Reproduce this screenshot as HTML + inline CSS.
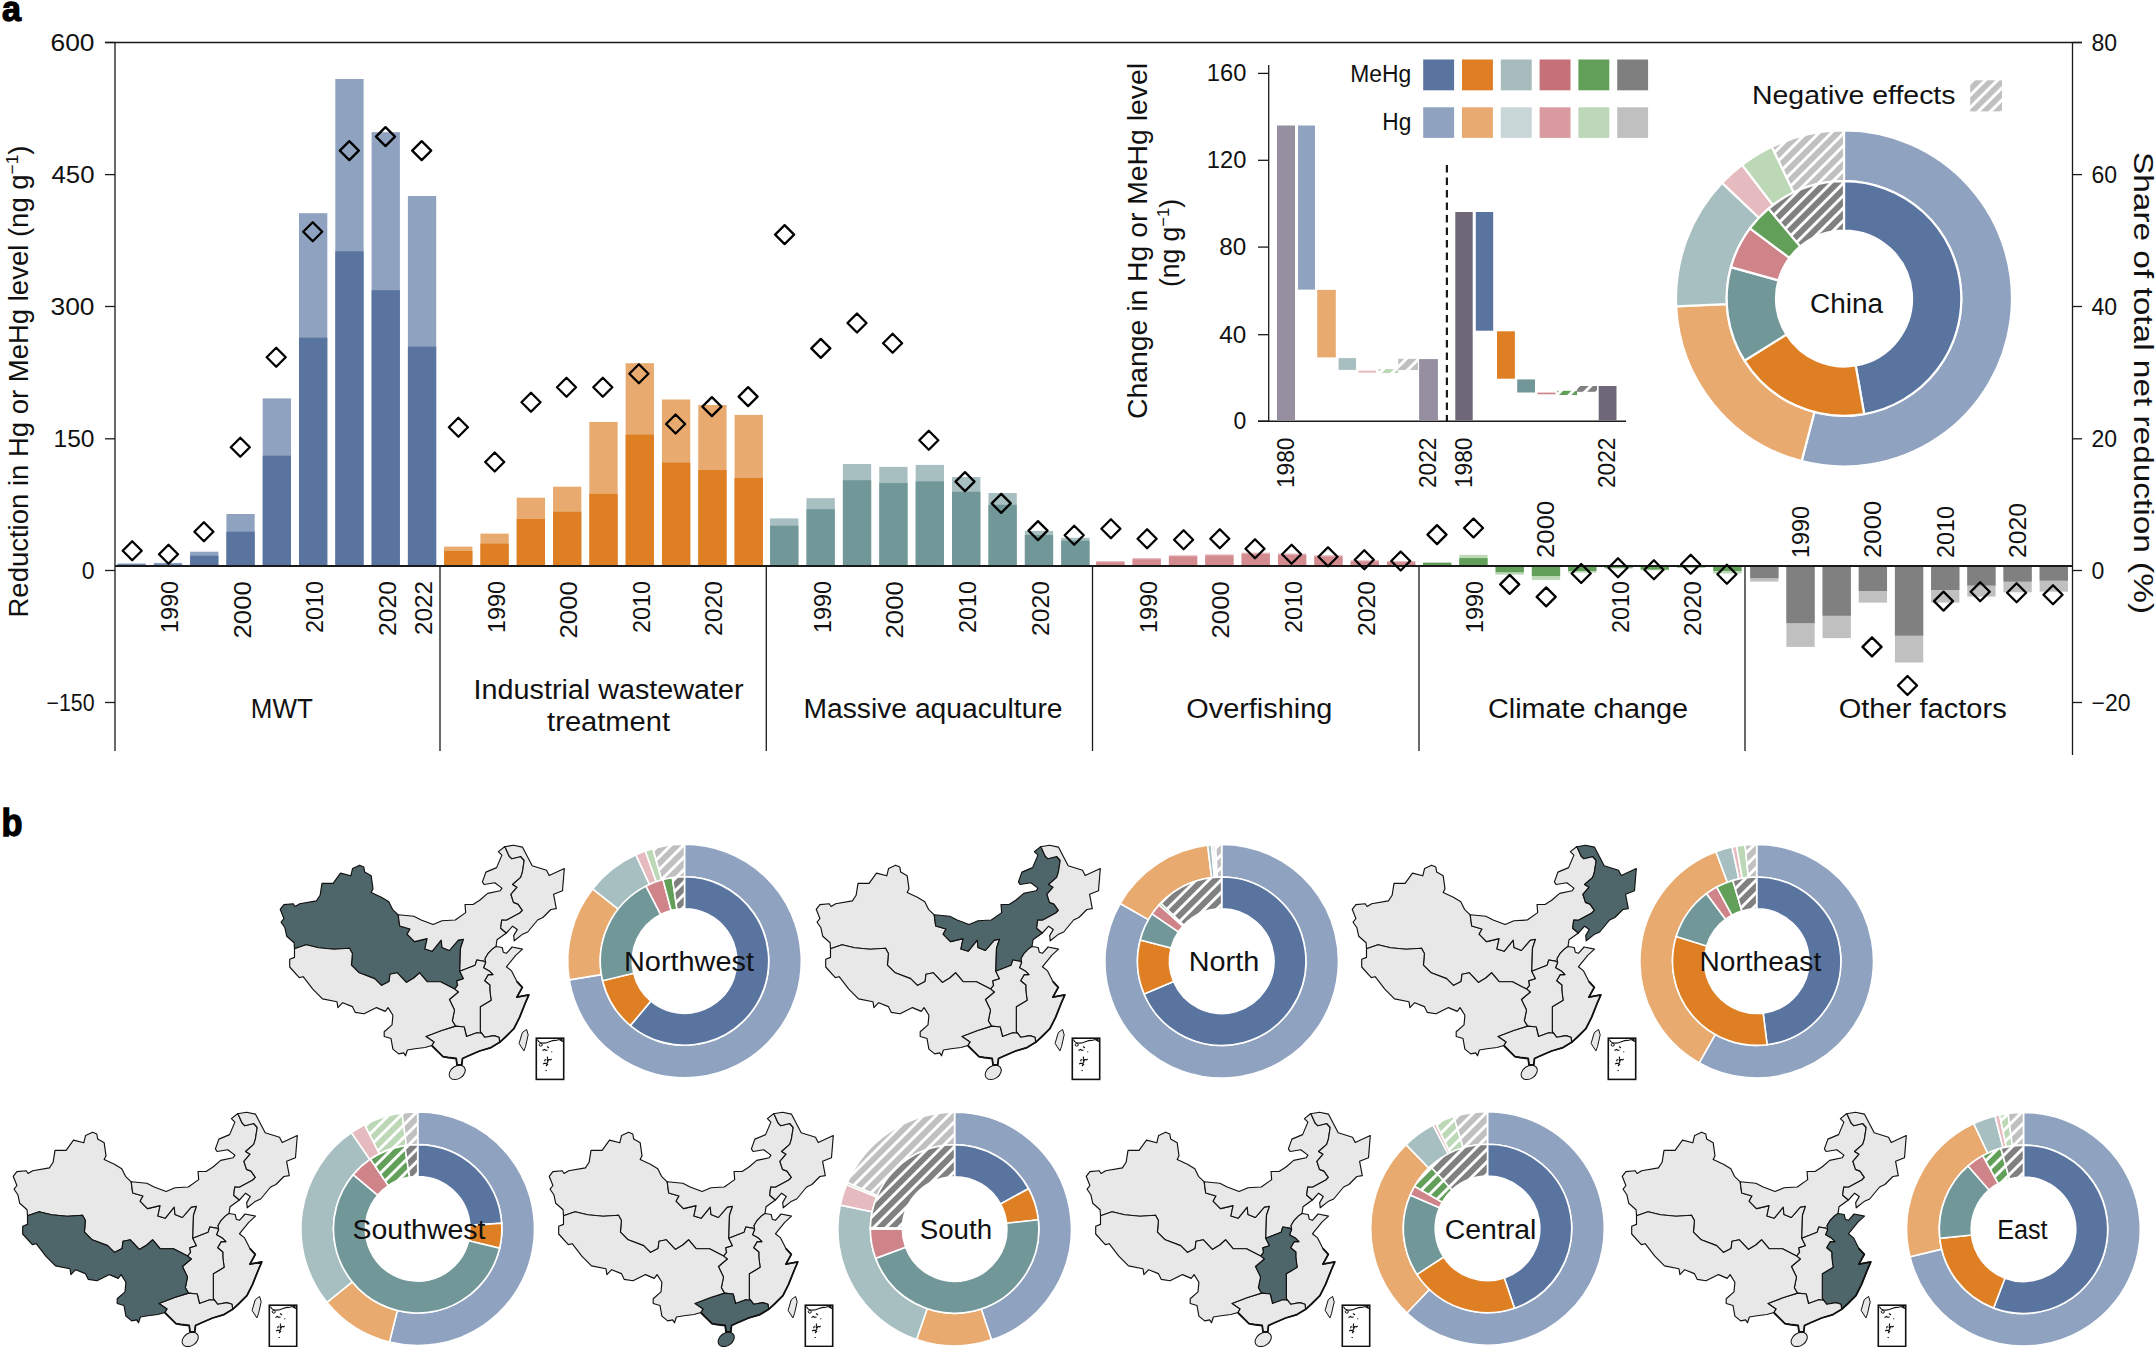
<!DOCTYPE html>
<html><head><meta charset="utf-8"><style>
html,body{margin:0;padding:0;background:#fff;width:2155px;height:1347px;overflow:hidden;}
svg{display:block;font-family:"Liberation Sans", sans-serif;}
</style></head><body>
<svg width="2155" height="1347" viewBox="0 0 2155 1347">
<rect width="2155" height="1347" fill="#fff"/>
<text x="2" y="21" font-size="35.5" font-weight="bold" fill="#000" stroke="#000" stroke-width="1.3" textLength="19" lengthAdjust="spacingAndGlyphs">a</text>
<text x="1.6" y="835.6" font-size="38" font-weight="bold" fill="#000" stroke="#000" stroke-width="1.3" textLength="21" lengthAdjust="spacingAndGlyphs">b</text>
<line x1="105" y1="42.5" x2="2082" y2="42.5" stroke="#1a1a1a" stroke-width="1.3"/>
<line x1="115" y1="42" x2="115" y2="751" stroke="#1a1a1a" stroke-width="1.3"/>
<line x1="2072.5" y1="42" x2="2072.5" y2="755" stroke="#1a1a1a" stroke-width="1.3"/>
<line x1="105" y1="42.5" x2="115" y2="42.5" stroke="#1a1a1a" stroke-width="1.3"/>
<line x1="2072.5" y1="42.5" x2="2082" y2="42.5" stroke="#1a1a1a" stroke-width="1.3"/>
<line x1="105" y1="174.6" x2="115" y2="174.6" stroke="#1a1a1a" stroke-width="1.3"/>
<line x1="2072.5" y1="174.6" x2="2082" y2="174.6" stroke="#1a1a1a" stroke-width="1.3"/>
<line x1="105" y1="306.5" x2="115" y2="306.5" stroke="#1a1a1a" stroke-width="1.3"/>
<line x1="2072.5" y1="306.5" x2="2082" y2="306.5" stroke="#1a1a1a" stroke-width="1.3"/>
<line x1="105" y1="438.8" x2="115" y2="438.8" stroke="#1a1a1a" stroke-width="1.3"/>
<line x1="2072.5" y1="438.8" x2="2082" y2="438.8" stroke="#1a1a1a" stroke-width="1.3"/>
<line x1="105" y1="570.5" x2="115" y2="570.5" stroke="#1a1a1a" stroke-width="1.3"/>
<line x1="2072.5" y1="570.5" x2="2082" y2="570.5" stroke="#1a1a1a" stroke-width="1.3"/>
<line x1="105" y1="702.5" x2="115" y2="702.5" stroke="#1a1a1a" stroke-width="1.3"/>
<line x1="2072.5" y1="702.5" x2="2082" y2="702.5" stroke="#1a1a1a" stroke-width="1.3"/>
<line x1="440" y1="567" x2="440" y2="751" stroke="#1a1a1a" stroke-width="1.3"/>
<line x1="766.3" y1="567" x2="766.3" y2="751" stroke="#1a1a1a" stroke-width="1.3"/>
<line x1="1092.5" y1="567" x2="1092.5" y2="751" stroke="#1a1a1a" stroke-width="1.3"/>
<line x1="1419" y1="567" x2="1419" y2="751" stroke="#1a1a1a" stroke-width="1.3"/>
<line x1="1745" y1="567" x2="1745" y2="751" stroke="#1a1a1a" stroke-width="1.3"/>
<text x="94.5" y="50.5" font-size="23" text-anchor="end" font-weight="normal" fill="#111" textLength="44" lengthAdjust="spacingAndGlyphs">600</text>
<text x="94.5" y="182.6" font-size="23" text-anchor="end" font-weight="normal" fill="#111" textLength="43" lengthAdjust="spacingAndGlyphs">450</text>
<text x="94.5" y="314.5" font-size="23" text-anchor="end" font-weight="normal" fill="#111" textLength="44" lengthAdjust="spacingAndGlyphs">300</text>
<text x="94.5" y="446.8" font-size="23" text-anchor="end" font-weight="normal" fill="#111" textLength="41" lengthAdjust="spacingAndGlyphs">150</text>
<text x="94.5" y="578.5" font-size="23" text-anchor="end" font-weight="normal" fill="#111">0</text>
<text x="94.5" y="710.5" font-size="23" text-anchor="end" font-weight="normal" fill="#111" textLength="48" lengthAdjust="spacingAndGlyphs">−150</text>
<text x="2091.5" y="50.5" font-size="23" text-anchor="start" font-weight="normal" fill="#111">80</text>
<text x="2091.5" y="182.6" font-size="23" text-anchor="start" font-weight="normal" fill="#111">60</text>
<text x="2091.5" y="314.5" font-size="23" text-anchor="start" font-weight="normal" fill="#111">40</text>
<text x="2091.5" y="446.8" font-size="23" text-anchor="start" font-weight="normal" fill="#111">20</text>
<text x="2091.5" y="578.5" font-size="23" text-anchor="start" font-weight="normal" fill="#111">0</text>
<text x="2091.5" y="710.5" font-size="23" text-anchor="start" font-weight="normal" fill="#111">−20</text>
<text x="27.5" y="381.5" font-size="27" text-anchor="middle" font-weight="normal" fill="#111" transform="rotate(-90 27.5 381.5)" textLength="472" lengthAdjust="spacingAndGlyphs">Reduction in Hg or MeHg level (ng g<tspan font-size="17" dy="-10">−1</tspan><tspan dy="10">)</tspan></text>
<text x="2134" y="383" font-size="27" text-anchor="middle" font-weight="normal" fill="#111" transform="rotate(90 2134 383)" textLength="462" lengthAdjust="spacingAndGlyphs">Share of total net reduction (%)</text>
<rect x="117.5" y="563.5" width="28.3" height="2.5" fill="#8fa2bf"/>
<rect x="117.5" y="564.5" width="28.3" height="1.5" fill="#5a74a0"/>
<rect x="153.8" y="562.9" width="28.3" height="3.1" fill="#8fa2bf"/>
<rect x="153.8" y="564.5" width="28.3" height="1.5" fill="#5a74a0"/>
<rect x="190.1" y="551.7" width="28.3" height="14.3" fill="#8fa2bf"/>
<rect x="190.1" y="555.7" width="28.3" height="10.3" fill="#5a74a0"/>
<rect x="226.4" y="514" width="28.3" height="52" fill="#8fa2bf"/>
<rect x="226.4" y="531.7" width="28.3" height="34.3" fill="#5a74a0"/>
<rect x="262.7" y="398.4" width="28.3" height="167.6" fill="#8fa2bf"/>
<rect x="262.7" y="455.7" width="28.3" height="110.3" fill="#5a74a0"/>
<rect x="299" y="213.2" width="28.3" height="352.8" fill="#8fa2bf"/>
<rect x="299" y="337.7" width="28.3" height="228.3" fill="#5a74a0"/>
<rect x="335.3" y="79" width="28.3" height="487" fill="#8fa2bf"/>
<rect x="335.3" y="251.3" width="28.3" height="314.7" fill="#5a74a0"/>
<rect x="371.6" y="132.2" width="28.3" height="433.8" fill="#8fa2bf"/>
<rect x="371.6" y="290.2" width="28.3" height="275.8" fill="#5a74a0"/>
<rect x="407.9" y="196" width="28.3" height="370" fill="#8fa2bf"/>
<rect x="407.9" y="346.6" width="28.3" height="219.4" fill="#5a74a0"/>
<rect x="444.1" y="546.6" width="28.3" height="19.4" fill="#e8aa6f"/>
<rect x="444.1" y="551" width="28.3" height="15" fill="#df7f24"/>
<rect x="480.41" y="533.6" width="28.3" height="32.4" fill="#e8aa6f"/>
<rect x="480.41" y="543.7" width="28.3" height="22.3" fill="#df7f24"/>
<rect x="516.72" y="497.7" width="28.3" height="68.3" fill="#e8aa6f"/>
<rect x="516.72" y="519" width="28.3" height="47" fill="#df7f24"/>
<rect x="553.03" y="486.7" width="28.3" height="79.3" fill="#e8aa6f"/>
<rect x="553.03" y="511.8" width="28.3" height="54.2" fill="#df7f24"/>
<rect x="589.34" y="422" width="28.3" height="144" fill="#e8aa6f"/>
<rect x="589.34" y="493.9" width="28.3" height="72.1" fill="#df7f24"/>
<rect x="625.65" y="363.2" width="28.3" height="202.8" fill="#e8aa6f"/>
<rect x="625.65" y="434.6" width="28.3" height="131.4" fill="#df7f24"/>
<rect x="661.96" y="399.5" width="28.3" height="166.5" fill="#e8aa6f"/>
<rect x="661.96" y="462.6" width="28.3" height="103.4" fill="#df7f24"/>
<rect x="698.27" y="405" width="28.3" height="161" fill="#e8aa6f"/>
<rect x="698.27" y="470" width="28.3" height="96" fill="#df7f24"/>
<rect x="734.58" y="414.9" width="28.3" height="151.1" fill="#e8aa6f"/>
<rect x="734.58" y="478" width="28.3" height="88" fill="#df7f24"/>
<rect x="770.1" y="518.4" width="28.3" height="47.6" fill="#a7bfc0"/>
<rect x="770.1" y="525.7" width="28.3" height="40.3" fill="#729799"/>
<rect x="806.49" y="498.2" width="28.3" height="67.8" fill="#a7bfc0"/>
<rect x="806.49" y="509.2" width="28.3" height="56.8" fill="#729799"/>
<rect x="842.88" y="464" width="28.3" height="102" fill="#a7bfc0"/>
<rect x="842.88" y="480.2" width="28.3" height="85.8" fill="#729799"/>
<rect x="879.27" y="466.9" width="28.3" height="99.1" fill="#a7bfc0"/>
<rect x="879.27" y="483.1" width="28.3" height="82.9" fill="#729799"/>
<rect x="915.66" y="464.9" width="28.3" height="101.1" fill="#a7bfc0"/>
<rect x="915.66" y="481.4" width="28.3" height="84.6" fill="#729799"/>
<rect x="952.05" y="477" width="28.3" height="89" fill="#a7bfc0"/>
<rect x="952.05" y="491.8" width="28.3" height="74.2" fill="#729799"/>
<rect x="988.44" y="493" width="28.3" height="73" fill="#a7bfc0"/>
<rect x="988.44" y="504.8" width="28.3" height="61.2" fill="#729799"/>
<rect x="1024.83" y="530.9" width="28.3" height="35.1" fill="#a7bfc0"/>
<rect x="1024.83" y="535" width="28.3" height="31" fill="#729799"/>
<rect x="1061.22" y="537.8" width="28.3" height="28.2" fill="#a7bfc0"/>
<rect x="1061.22" y="540.7" width="28.3" height="25.3" fill="#729799"/>
<rect x="1096.2" y="561" width="28.3" height="5" fill="#e6bbbf"/>
<rect x="1096.2" y="562.2" width="28.3" height="3.8" fill="#d38b90"/>
<rect x="1132.55" y="558" width="28.3" height="8" fill="#e6bbbf"/>
<rect x="1132.55" y="559.3" width="28.3" height="6.7" fill="#d38b90"/>
<rect x="1168.9" y="555.2" width="28.3" height="10.8" fill="#e6bbbf"/>
<rect x="1168.9" y="556.4" width="28.3" height="9.6" fill="#d38b90"/>
<rect x="1205.25" y="554.3" width="28.3" height="11.7" fill="#e6bbbf"/>
<rect x="1205.25" y="555.6" width="28.3" height="10.4" fill="#d38b90"/>
<rect x="1241.6" y="552.6" width="28.3" height="13.4" fill="#e6bbbf"/>
<rect x="1241.6" y="553.9" width="28.3" height="12.1" fill="#d38b90"/>
<rect x="1277.95" y="553.5" width="28.3" height="12.5" fill="#e6bbbf"/>
<rect x="1277.95" y="554.8" width="28.3" height="11.2" fill="#d38b90"/>
<rect x="1314.3" y="555.2" width="28.3" height="10.8" fill="#e6bbbf"/>
<rect x="1314.3" y="556.5" width="28.3" height="9.5" fill="#d38b90"/>
<rect x="1350.65" y="560.2" width="28.3" height="5.8" fill="#e6bbbf"/>
<rect x="1350.65" y="561.4" width="28.3" height="4.6" fill="#d38b90"/>
<rect x="1387" y="561" width="28.3" height="5" fill="#e6bbbf"/>
<rect x="1387" y="562.2" width="28.3" height="3.8" fill="#d38b90"/>
<rect x="1423" y="562.3" width="28.3" height="3.7" fill="#bcd8b7"/>
<rect x="1423" y="562.8" width="28.3" height="3.2" fill="#62a05a"/>
<rect x="1459.28" y="554.8" width="28.3" height="11.2" fill="#bcd8b7"/>
<rect x="1459.28" y="558.1" width="28.3" height="7.9" fill="#62a05a"/>
<rect x="1495.56" y="566" width="28.3" height="8.7" fill="#bcd8b7"/>
<rect x="1495.56" y="566" width="28.3" height="6.2" fill="#62a05a"/>
<rect x="1531.84" y="566" width="28.3" height="13.9" fill="#bcd8b7"/>
<rect x="1531.84" y="566" width="28.3" height="10" fill="#62a05a"/>
<rect x="1568.12" y="566" width="28.3" height="6.7" fill="#bcd8b7"/>
<rect x="1568.12" y="566" width="28.3" height="5" fill="#62a05a"/>
<rect x="1604.4" y="566" width="28.3" height="2.7" fill="#bcd8b7"/>
<rect x="1604.4" y="566" width="28.3" height="1.7" fill="#62a05a"/>
<rect x="1640.68" y="566" width="28.3" height="4.3" fill="#bcd8b7"/>
<rect x="1640.68" y="566" width="28.3" height="3.5" fill="#62a05a"/>
<rect x="1676.96" y="566" width="28.3" height="1.8" fill="#bcd8b7"/>
<rect x="1676.96" y="566" width="28.3" height="1.3" fill="#62a05a"/>
<rect x="1713.24" y="566" width="28.3" height="7.5" fill="#bcd8b7"/>
<rect x="1713.24" y="566" width="28.3" height="5" fill="#62a05a"/>
<rect x="1750.2" y="566" width="28.3" height="15.6" fill="#c0c0c0"/>
<rect x="1750.2" y="566" width="28.3" height="12.1" fill="#808080"/>
<rect x="1786.38" y="566" width="28.3" height="80.9" fill="#c0c0c0"/>
<rect x="1786.38" y="566" width="28.3" height="57.1" fill="#808080"/>
<rect x="1822.56" y="566" width="28.3" height="72.1" fill="#c0c0c0"/>
<rect x="1822.56" y="566" width="28.3" height="49.7" fill="#808080"/>
<rect x="1858.74" y="566" width="28.3" height="36.6" fill="#c0c0c0"/>
<rect x="1858.74" y="566" width="28.3" height="25" fill="#808080"/>
<rect x="1894.92" y="566" width="28.3" height="96.5" fill="#c0c0c0"/>
<rect x="1894.92" y="566" width="28.3" height="69.6" fill="#808080"/>
<rect x="1931.1" y="566" width="28.3" height="36.6" fill="#c0c0c0"/>
<rect x="1931.1" y="566" width="28.3" height="24" fill="#808080"/>
<rect x="1967.28" y="566" width="28.3" height="30.6" fill="#c0c0c0"/>
<rect x="1967.28" y="566" width="28.3" height="19.5" fill="#808080"/>
<rect x="2003.46" y="566" width="28.3" height="26.3" fill="#c0c0c0"/>
<rect x="2003.46" y="566" width="28.3" height="15.6" fill="#808080"/>
<rect x="2039.64" y="566" width="28.3" height="25.7" fill="#c0c0c0"/>
<rect x="2039.64" y="566" width="28.3" height="14.6" fill="#808080"/>
<line x1="115" y1="566" x2="2072.5" y2="566" stroke="#1a1a1a" stroke-width="2.2"/>
<path d="M132.2 541.2L141.7 550.7L132.2 560.2L122.7 550.7ZM168.5 544.7L178 554.2L168.5 563.7L159 554.2ZM203.9 522.2L213.4 531.7L203.9 541.2L194.4 531.7ZM240.3 437.8L249.8 447.3L240.3 456.8L230.8 447.3ZM276.2 347.8L285.7 357.3L276.2 366.8L266.7 357.3ZM312.7 222.2L322.2 231.7L312.7 241.2L303.2 231.7ZM349.3 141.1L358.8 150.6L349.3 160.1L339.8 150.6ZM385.5 127.1L395 136.6L385.5 146.1L376 136.6ZM421.7 141.1L431.2 150.6L421.7 160.1L412.2 150.6ZM458.4 417.8L467.9 427.3L458.4 436.8L448.9 427.3ZM494.7 452.5L504.2 462L494.7 471.5L485.2 462ZM531 392.7L540.5 402.2L531 411.7L521.5 402.2ZM566.5 377.8L576 387.3L566.5 396.8L557 387.3ZM602.8 377.8L612.3 387.3L602.8 396.8L593.3 387.3ZM638.9 364.3L648.4 373.8L638.9 383.3L629.4 373.8ZM675.6 414.5L685.1 424L675.6 433.5L666.1 424ZM711.9 397.1L721.4 406.6L711.9 416.1L702.4 406.6ZM748.1 387.1L757.6 396.6L748.1 406.1L738.6 396.6ZM784.6 225.1L794.1 234.6L784.6 244.1L775.1 234.6ZM820.8 338.9L830.3 348.4L820.8 357.9L811.3 348.4ZM857 313.5L866.5 323L857 332.5L847.5 323ZM892.6 333.7L902.1 343.2L892.6 352.7L883.1 343.2ZM928.8 430.7L938.3 440.2L928.8 449.7L919.3 440.2ZM965 472.1L974.5 481.6L965 491.1L955.5 481.6ZM1001.2 493.9L1010.7 503.4L1001.2 512.9L991.7 503.4ZM1038 521.1L1047.5 530.6L1038 540.1L1028.5 530.6ZM1074.2 525.7L1083.7 535.2L1074.2 544.7L1064.7 535.2ZM1110.9 519.3L1120.4 528.8L1110.9 538.3L1101.4 528.8ZM1147.1 529.3L1156.6 538.8L1147.1 548.3L1137.6 538.8ZM1183.6 530.3L1193.1 539.8L1183.6 549.3L1174.1 539.8ZM1219.8 529.3L1229.3 538.8L1219.8 548.3L1210.3 538.8ZM1255 539.3L1264.5 548.8L1255 558.3L1245.5 548.8ZM1291.6 544.8L1301.1 554.3L1291.6 563.8L1282.1 554.3ZM1328 547.3L1337.5 556.8L1328 566.3L1318.5 556.8ZM1364.3 550.3L1373.8 559.8L1364.3 569.3L1354.8 559.8ZM1400.7 551.5L1410.2 561L1400.7 570.5L1391.2 561ZM1437 525.1L1446.5 534.6L1437 544.1L1427.5 534.6ZM1473.5 518.5L1483 528L1473.5 537.5L1464 528ZM1509.7 574.9L1519.2 584.4L1509.7 593.9L1500.2 584.4ZM1546.2 587.4L1555.7 596.9L1546.2 606.4L1536.7 596.9ZM1581.2 564L1590.7 573.5L1581.2 583L1571.7 573.5ZM1618 558.2L1627.5 567.7L1618 577.2L1608.5 567.7ZM1653.9 560.3L1663.4 569.8L1653.9 579.3L1644.4 569.8ZM1690.7 554.8L1700.2 564.3L1690.7 573.8L1681.2 564.3ZM1726.9 564.8L1736.4 574.3L1726.9 583.8L1717.4 574.3ZM1872 637.4L1881.5 646.9L1872 656.4L1862.5 646.9ZM1907.5 676L1917 685.5L1907.5 695L1898 685.5ZM1943.5 591.6L1953 601.1L1943.5 610.6L1934 601.1ZM1980.2 582.2L1989.7 591.7L1980.2 601.2L1970.7 591.7ZM2016.6 583.2L2026.1 592.7L2016.6 602.2L2007.1 592.7ZM2053 585.2L2062.5 594.7L2053 604.2L2043.5 594.7Z" fill="none" stroke="#000" stroke-width="2.3" stroke-linejoin="round"/>
<text x="177.95" y="581" font-size="24" text-anchor="end" font-weight="normal" fill="#111" transform="rotate(-90 177.95 581)" textLength="52" lengthAdjust="spacingAndGlyphs">1990</text>
<text x="250.55" y="581" font-size="24" text-anchor="end" font-weight="normal" fill="#111" transform="rotate(-90 250.55 581)" textLength="57.5" lengthAdjust="spacingAndGlyphs">2000</text>
<text x="323.15" y="581" font-size="24" text-anchor="end" font-weight="normal" fill="#111" transform="rotate(-90 323.15 581)" textLength="52" lengthAdjust="spacingAndGlyphs">2010</text>
<text x="395.75" y="581" font-size="24" text-anchor="end" font-weight="normal" fill="#111" transform="rotate(-90 395.75 581)" textLength="55" lengthAdjust="spacingAndGlyphs">2020</text>
<text x="504.56" y="581" font-size="24" text-anchor="end" font-weight="normal" fill="#111" transform="rotate(-90 504.56 581)" textLength="52" lengthAdjust="spacingAndGlyphs">1990</text>
<text x="577.18" y="581" font-size="24" text-anchor="end" font-weight="normal" fill="#111" transform="rotate(-90 577.18 581)" textLength="57.5" lengthAdjust="spacingAndGlyphs">2000</text>
<text x="649.8" y="581" font-size="24" text-anchor="end" font-weight="normal" fill="#111" transform="rotate(-90 649.8 581)" textLength="52" lengthAdjust="spacingAndGlyphs">2010</text>
<text x="722.42" y="581" font-size="24" text-anchor="end" font-weight="normal" fill="#111" transform="rotate(-90 722.42 581)" textLength="55" lengthAdjust="spacingAndGlyphs">2020</text>
<text x="830.64" y="581" font-size="24" text-anchor="end" font-weight="normal" fill="#111" transform="rotate(-90 830.64 581)" textLength="52" lengthAdjust="spacingAndGlyphs">1990</text>
<text x="903.42" y="581" font-size="24" text-anchor="end" font-weight="normal" fill="#111" transform="rotate(-90 903.42 581)" textLength="57.5" lengthAdjust="spacingAndGlyphs">2000</text>
<text x="976.2" y="581" font-size="24" text-anchor="end" font-weight="normal" fill="#111" transform="rotate(-90 976.2 581)" textLength="52" lengthAdjust="spacingAndGlyphs">2010</text>
<text x="1048.98" y="581" font-size="24" text-anchor="end" font-weight="normal" fill="#111" transform="rotate(-90 1048.98 581)" textLength="55" lengthAdjust="spacingAndGlyphs">2020</text>
<text x="1156.7" y="581" font-size="24" text-anchor="end" font-weight="normal" fill="#111" transform="rotate(-90 1156.7 581)" textLength="52" lengthAdjust="spacingAndGlyphs">1990</text>
<text x="1229.4" y="581" font-size="24" text-anchor="end" font-weight="normal" fill="#111" transform="rotate(-90 1229.4 581)" textLength="57.5" lengthAdjust="spacingAndGlyphs">2000</text>
<text x="1302.1" y="581" font-size="24" text-anchor="end" font-weight="normal" fill="#111" transform="rotate(-90 1302.1 581)" textLength="52" lengthAdjust="spacingAndGlyphs">2010</text>
<text x="1374.8" y="581" font-size="24" text-anchor="end" font-weight="normal" fill="#111" transform="rotate(-90 1374.8 581)" textLength="55" lengthAdjust="spacingAndGlyphs">2020</text>
<text x="432.05" y="581" font-size="24" text-anchor="end" font-weight="normal" fill="#111" transform="rotate(-90 432.05 581)" textLength="54" lengthAdjust="spacingAndGlyphs">2022</text>
<text x="1483.43" y="581" font-size="24" text-anchor="end" font-weight="normal" fill="#111" transform="rotate(-90 1483.43 581)" textLength="52" lengthAdjust="spacingAndGlyphs">1990</text>
<text x="1554.49" y="558" font-size="24" text-anchor="start" font-weight="normal" fill="#111" transform="rotate(-90 1554.49 558)" textLength="57.5" lengthAdjust="spacingAndGlyphs">2000</text>
<text x="1628.55" y="581" font-size="24" text-anchor="end" font-weight="normal" fill="#111" transform="rotate(-90 1628.55 581)" textLength="52" lengthAdjust="spacingAndGlyphs">2010</text>
<text x="1701.11" y="581" font-size="24" text-anchor="end" font-weight="normal" fill="#111" transform="rotate(-90 1701.11 581)" textLength="55" lengthAdjust="spacingAndGlyphs">2020</text>
<text x="1809.03" y="558" font-size="24" text-anchor="start" font-weight="normal" fill="#111" transform="rotate(-90 1809.03 558)" textLength="52" lengthAdjust="spacingAndGlyphs">1990</text>
<text x="1881.39" y="558" font-size="24" text-anchor="start" font-weight="normal" fill="#111" transform="rotate(-90 1881.39 558)" textLength="57.5" lengthAdjust="spacingAndGlyphs">2000</text>
<text x="1953.75" y="558" font-size="24" text-anchor="start" font-weight="normal" fill="#111" transform="rotate(-90 1953.75 558)" textLength="52" lengthAdjust="spacingAndGlyphs">2010</text>
<text x="2026.11" y="558" font-size="24" text-anchor="start" font-weight="normal" fill="#111" transform="rotate(-90 2026.11 558)" textLength="55" lengthAdjust="spacingAndGlyphs">2020</text>
<text x="281.8" y="718" font-size="27" text-anchor="middle" font-weight="normal" fill="#111" textLength="62" lengthAdjust="spacingAndGlyphs">MWT</text>
<text x="608.6" y="699.3" font-size="27" text-anchor="middle" font-weight="normal" fill="#111" textLength="270" lengthAdjust="spacingAndGlyphs">Industrial wastewater</text>
<text x="608.6" y="730.8" font-size="27" text-anchor="middle" font-weight="normal" fill="#111" textLength="123" lengthAdjust="spacingAndGlyphs">treatment</text>
<text x="933" y="717.8" font-size="27" text-anchor="middle" font-weight="normal" fill="#111" textLength="259" lengthAdjust="spacingAndGlyphs">Massive aquaculture</text>
<text x="1259.3" y="718.3" font-size="27" text-anchor="middle" font-weight="normal" fill="#111" textLength="146" lengthAdjust="spacingAndGlyphs">Overfishing</text>
<text x="1588" y="718.3" font-size="27" text-anchor="middle" font-weight="normal" fill="#111" textLength="200" lengthAdjust="spacingAndGlyphs">Climate change</text>
<text x="1922.7" y="718.3" font-size="27" text-anchor="middle" font-weight="normal" fill="#111" textLength="168" lengthAdjust="spacingAndGlyphs">Other factors</text>
<defs>
<pattern id="hgL" patternUnits="userSpaceOnUse" width="8.8" height="8.8" patternTransform="rotate(45)"><rect x="0" y="0" width="5.9" height="8.8" fill="#c0c0c0"/></pattern>
<pattern id="hgD" patternUnits="userSpaceOnUse" width="8.8" height="8.8" patternTransform="rotate(45)"><rect x="0" y="0" width="5.9" height="8.8" fill="#808080"/></pattern>
<pattern id="hgrL" patternUnits="userSpaceOnUse" width="8.8" height="8.8" patternTransform="rotate(45)"><rect x="0" y="0" width="5.9" height="8.8" fill="#bcd8b7"/></pattern>
<pattern id="hgrD" patternUnits="userSpaceOnUse" width="8.8" height="8.8" patternTransform="rotate(45)"><rect x="0" y="0" width="5.9" height="8.8" fill="#62a05a"/></pattern>
<pattern id="hgL2" patternUnits="userSpaceOnUse" width="8.6" height="8.6" patternTransform="rotate(45)"><rect x="0" y="0" width="5.6" height="8.6" fill="#c0c0c0"/></pattern>
</defs>
<line x1="1268.7" y1="65" x2="1268.7" y2="421.2" stroke="#1a1a1a" stroke-width="1.3"/>
<line x1="1258" y1="421.2" x2="1626" y2="421.2" stroke="#1a1a1a" stroke-width="1.6"/>
<line x1="1258" y1="73.4" x2="1268.7" y2="73.4" stroke="#1a1a1a" stroke-width="1.3"/>
<text x="1246.3" y="81.4" font-size="23" text-anchor="end" font-weight="normal" fill="#111" textLength="39.5" lengthAdjust="spacingAndGlyphs">160</text>
<line x1="1258" y1="160.3" x2="1268.7" y2="160.3" stroke="#1a1a1a" stroke-width="1.3"/>
<text x="1246.3" y="168.3" font-size="23" text-anchor="end" font-weight="normal" fill="#111" textLength="39.5" lengthAdjust="spacingAndGlyphs">120</text>
<line x1="1258" y1="247.1" x2="1268.7" y2="247.1" stroke="#1a1a1a" stroke-width="1.3"/>
<text x="1246.3" y="255.1" font-size="23" text-anchor="end" font-weight="normal" fill="#111" textLength="27" lengthAdjust="spacingAndGlyphs">80</text>
<line x1="1258" y1="334.7" x2="1268.7" y2="334.7" stroke="#1a1a1a" stroke-width="1.3"/>
<text x="1246.3" y="342.7" font-size="23" text-anchor="end" font-weight="normal" fill="#111" textLength="27" lengthAdjust="spacingAndGlyphs">40</text>
<line x1="1258" y1="421.2" x2="1268.7" y2="421.2" stroke="#1a1a1a" stroke-width="1.3"/>
<text x="1246.3" y="429.2" font-size="23" text-anchor="end" font-weight="normal" fill="#111">0</text>
<rect x="1277" y="125.5" width="18" height="295" fill="#958fa0"/>
<rect x="1298" y="125.5" width="17" height="164.1" fill="#8fa2bf"/>
<rect x="1317.2" y="289.9" width="18.6" height="67.5" fill="#e8aa6f"/>
<rect x="1338.6" y="358.1" width="17.4" height="11.8" fill="#a7bfc0"/>
<rect x="1358.5" y="370.6" width="17.5" height="2.1" fill="#e6bbbf"/>
<rect x="1378.7" y="369" width="19.5" height="4.1" fill="url(#hgrL)"/>
<rect x="1398.2" y="358.8" width="19.8" height="11.2" fill="url(#hgL)"/>
<rect x="1419.1" y="359.1" width="18.8" height="61.4" fill="#958fa0"/>
<rect x="1455.3" y="212" width="17.4" height="208.5" fill="#6e6878"/>
<rect x="1475.8" y="212" width="17.4" height="118.7" fill="#5a74a0"/>
<rect x="1497" y="331.3" width="17.9" height="47.4" fill="#df7f24"/>
<rect x="1517.2" y="379.4" width="17.8" height="13.1" fill="#729799"/>
<rect x="1537.4" y="392.6" width="18.1" height="1.7" fill="#cf848a"/>
<rect x="1557.2" y="390.8" width="19.9" height="4.2" fill="url(#hgrD)"/>
<rect x="1577.1" y="386" width="19.9" height="5.8" fill="url(#hgD)"/>
<rect x="1598.7" y="386" width="17.8" height="34.5" fill="#6e6878"/>
<line x1="1446.9" y1="165" x2="1446.9" y2="421" stroke="#1a1a1a" stroke-width="2.2" stroke-dasharray="7.5,5"/>
<text x="1293.9" y="437.6" font-size="24" text-anchor="end" font-weight="normal" fill="#111" transform="rotate(-90 1293.9 437.6)" textLength="50.5" lengthAdjust="spacingAndGlyphs">1980</text>
<text x="1435.9" y="437.6" font-size="24" text-anchor="end" font-weight="normal" fill="#111" transform="rotate(-90 1435.9 437.6)" textLength="50.5" lengthAdjust="spacingAndGlyphs">2022</text>
<text x="1472" y="437.6" font-size="24" text-anchor="end" font-weight="normal" fill="#111" transform="rotate(-90 1472 437.6)" textLength="50.5" lengthAdjust="spacingAndGlyphs">1980</text>
<text x="1614.7" y="437.6" font-size="24" text-anchor="end" font-weight="normal" fill="#111" transform="rotate(-90 1614.7 437.6)" textLength="50.5" lengthAdjust="spacingAndGlyphs">2022</text>
<text x="1146.5" y="241" font-size="27" text-anchor="middle" font-weight="normal" fill="#111" transform="rotate(-90 1146.5 241)" textLength="356" lengthAdjust="spacingAndGlyphs">Change in Hg or MeHg level</text>
<text x="1178.5" y="243" font-size="27" text-anchor="middle" font-weight="normal" fill="#111" transform="rotate(-90 1178.5 243)" textLength="88" lengthAdjust="spacingAndGlyphs">(ng g<tspan font-size="17" dy="-10">−1</tspan><tspan dy="10">)</tspan></text>
<text x="1411.3" y="82" font-size="23" text-anchor="end" font-weight="normal" fill="#111" textLength="61" lengthAdjust="spacingAndGlyphs">MeHg</text>
<text x="1411.3" y="130" font-size="23" text-anchor="end" font-weight="normal" fill="#111" textLength="29" lengthAdjust="spacingAndGlyphs">Hg</text>
<rect x="1423.2" y="59.5" width="30.9" height="30.8" fill="#5a74a0"/>
<rect x="1423.2" y="107.3" width="30.9" height="30.6" fill="#8fa2bf"/>
<rect x="1462" y="59.5" width="30.9" height="30.8" fill="#df7e24"/>
<rect x="1462" y="107.3" width="30.9" height="30.6" fill="#e8aa70"/>
<rect x="1500.8" y="59.5" width="30.9" height="30.8" fill="#a5bbbc"/>
<rect x="1500.8" y="107.3" width="30.9" height="30.6" fill="#c9d6d8"/>
<rect x="1539.6" y="59.5" width="30.9" height="30.8" fill="#c67177"/>
<rect x="1539.6" y="107.3" width="30.9" height="30.6" fill="#d99ba0"/>
<rect x="1578.4" y="59.5" width="30.9" height="30.8" fill="#62a05a"/>
<rect x="1578.4" y="107.3" width="30.9" height="30.6" fill="#bdd8b8"/>
<rect x="1617.2" y="59.5" width="30.9" height="30.8" fill="#7f7f7f"/>
<rect x="1617.2" y="107.3" width="30.9" height="30.6" fill="#c0c0c0"/>
<text x="1752" y="103.6" font-size="26" text-anchor="start" font-weight="normal" fill="#111" textLength="203.5" lengthAdjust="spacingAndGlyphs">Negative effects</text>
<rect x="1970.2" y="80.3" width="31.8" height="31.1" fill="url(#hgL2)"/>
<path d="M1844 130.5A168 168 0 1 1 1801.65 461.08L1814.43 412.01A117.3 117.3 0 1 0 1844 181.2Z" fill="#8fa2bf" stroke="#fff" stroke-width="2.2" stroke-linejoin="miter"/>
<path d="M1801.65 461.08A168 168 0 0 1 1676.19 306.41L1726.83 304.03A117.3 117.3 0 0 0 1814.43 412.01Z" fill="#e8aa6f" stroke="#fff" stroke-width="2.2" stroke-linejoin="miter"/>
<path d="M1676.19 306.41A168 168 0 0 1 1722.14 182.86L1758.91 217.76A117.3 117.3 0 0 0 1726.83 304.03Z" fill="#a7bfc0" stroke="#fff" stroke-width="2.2" stroke-linejoin="miter"/>
<path d="M1722.14 182.86A168 168 0 0 1 1742.19 164.86L1772.92 205.19A117.3 117.3 0 0 0 1758.91 217.76Z" fill="#e6bbbf" stroke="#fff" stroke-width="2.2" stroke-linejoin="miter"/>
<path d="M1742.19 164.86A168 168 0 0 1 1771.94 146.74L1793.69 192.54A117.3 117.3 0 0 0 1772.92 205.19Z" fill="#bcd8b7" stroke="#fff" stroke-width="2.2" stroke-linejoin="miter"/>
<path d="M1771.94 146.74A168 168 0 0 1 1844 130.5L1844 181.2A117.3 117.3 0 0 0 1793.69 192.54Z" fill="url(#hgL)" stroke="#fff" stroke-width="2.2" stroke-linejoin="miter"/>
<path d="M1844 181.2A117.3 117.3 0 0 1 1864.17 414.05L1855.69 365.49A68 68 0 0 0 1844 230.5Z" fill="#5a74a0" stroke="#fff" stroke-width="2.2" stroke-linejoin="miter"/>
<path d="M1864.17 414.05A117.3 117.3 0 0 1 1744.52 360.66L1786.33 334.53A68 68 0 0 0 1855.69 365.49Z" fill="#df7f24" stroke="#fff" stroke-width="2.2" stroke-linejoin="miter"/>
<path d="M1744.52 360.66A117.3 117.3 0 0 1 1730.97 267.15L1778.47 280.33A68 68 0 0 0 1786.33 334.53Z" fill="#729799" stroke="#fff" stroke-width="2.2" stroke-linejoin="miter"/>
<path d="M1730.97 267.15A117.3 117.3 0 0 1 1749.95 228.4L1789.48 257.86A68 68 0 0 0 1778.47 280.33Z" fill="#cf848a" stroke="#fff" stroke-width="2.2" stroke-linejoin="miter"/>
<path d="M1749.95 228.4A117.3 117.3 0 0 1 1768.6 208.64L1800.29 246.41A68 68 0 0 0 1789.48 257.86Z" fill="#62a05a" stroke="#fff" stroke-width="2.2" stroke-linejoin="miter"/>
<path d="M1768.6 208.64A117.3 117.3 0 0 1 1844 181.2L1844 230.5A68 68 0 0 0 1800.29 246.41Z" fill="url(#hgD)" stroke="#fff" stroke-width="2.2" stroke-linejoin="miter"/>
<text x="1846.5" y="313" font-size="27" text-anchor="middle" font-weight="normal" fill="#111" textLength="73" lengthAdjust="spacingAndGlyphs">China</text>
<g transform="translate(270 835)">
<path d="M24.5 113.7L24.1 107.7L16.7 101.2L14.9 92.8L11.1 87.2L13.9 83.5L10.2 74.3L13.9 69.6L23.2 68.7L25.1 71.5L29.7 68.7L46.4 65.9L50.1 60.3L52 48.3L63.1 48.3L70.5 38.1L80.8 40.8L82.6 33.4L89.6 30.2L93.8 32L94.7 37.1L101.2 40.8L103 53.8L101.2 57.6L111.4 62.2L118.8 66.8L122.5 74.3L128.2 79.8L129.7 91L140 94L137.1 99.2L144.5 106.6L157.1 103.6L154.9 114L162.3 116.2L171.2 105.1L172 112.5L179.4 115.5L188.3 105.1L193.5 104.3L190.5 113.3L189.8 136.3L193.5 143.7L186.8 145.9L187.6 150.4L184.6 154.1L170.5 146.7L157.1 146.7L149.7 137.8L143.8 143L136.3 147.4L127.4 137.8L120 139.2L119.1 146.5L111.4 150.4L104.6 143.6L89.2 137.8L81.4 130.1L82.4 118.5L79.5 113.2L64.1 114.2L48.6 112.7L36.1 109.8L24.5 113.7Z" fill="#4e6569" stroke="#111" stroke-width="1.15" stroke-linejoin="round"/>
<path d="M128.2 79.8L143.8 81.3L151.2 85L163.1 89.5L172 85.8L185.3 85L195.7 77.6L195 69.5L203.1 69.5L210 65L217.7 58.4L230.2 55.8L231.9 53.1L224.8 47.8L214.1 49.5L212.4 46.9L215.9 37.1L226.6 32.6L231.9 20.1L228.4 16.6L234.6 11.7L235.5 13L239.1 21L241.7 23.7L250.7 21.5L254.2 25.5L252.4 37.1L250.7 42.4L242.6 49.5L247.1 52.2L240.9 59.3L243.5 67.4L248 69.1L252.4 75.4L249.8 78L236.4 85.2L231.7 85L230.7 93.3L236.4 98L227 104.8L226 111.5L222.3 114.1L218.2 118.3L215.1 123.5L215.6 127.6L213.5 126.1L206.8 125L205.2 130.2L200 132.3L189.8 136.3L190.5 113.3L193.5 104.3L188.3 105.1L179.4 115.5L172 112.5L171.2 105.1L162.3 116.2L154.9 114L157.1 103.6L144.5 106.6L137.1 99.2L140 94L129.7 91L128.2 79.8Z" fill="#e8e8e8" stroke="#111" stroke-width="1.15" stroke-linejoin="round"/>
<path d="M234.6 11.7L243.5 10.3L252.4 12.1L262.2 30.8L276.5 35.3L279.2 40.6L294.3 33.5L292.5 55.8L283.6 59.3L286.3 73.6L280.9 74.5L272.9 82.5L267.6 85L257.7 97L252 99.6L244.2 105.8L243.7 100.6L247.3 94.4L242.6 91.2L236.4 98L230.7 93.3L231.7 85L236.4 85.2L249.8 78L252.4 75.4L248 69.1L243.5 67.4L240.9 59.3L247.1 52.2L242.6 49.5L250.7 42.4L252.4 37.1L254.2 25.5L250.7 21.5L241.7 23.7L239.1 21L235.5 13L234.6 11.7Z" fill="#e8e8e8" stroke="#111" stroke-width="1.15" stroke-linejoin="round"/>
<path d="M226 111.5L232.2 112.5L233.3 117.2L236.4 118.3L242.1 112L252.5 114.1L245.7 120.3L236.4 131.8L241.6 135.9L246.8 146.3L252.3 152.4L246.9 162.1L258.8 159.9L255.3 168L249.6 182.3L243.9 193.7L236 201.5L229.7 207.3L229 202.3L223.9 200.6L214.8 202.3L211.5 198.2L210.3 196.5L210.3 171.8L221.1 165.3L219.8 155L219.8 150L214.6 145.8L218.2 139.6L222.9 139.6L219.2 135.9L213.5 132.8L215.6 127.6L215.1 123.5L218.2 118.3L222.3 114.1L226 111.5Z" fill="#e8e8e8" stroke="#111" stroke-width="1.15" stroke-linejoin="round"/>
<path d="M189.8 136.3L200 132.3L205.2 130.2L206.8 125L213.5 126.1L215.6 127.6L213.5 132.8L219.2 135.9L222.9 139.6L218.2 139.6L214.6 145.8L219.8 150L219.8 155L221.1 165.3L210.3 171.8L210.3 196.5L211.5 198.2L206.8 197.7L196.5 201.5L194.2 192L185.5 191.1L182.3 185.8L184.5 175L179.4 164.5L188.3 157L184.6 154.1L187.6 150.4L186.8 145.9L193.5 143.7L189.8 136.3Z" fill="#e8e8e8" stroke="#111" stroke-width="1.15" stroke-linejoin="round"/>
<path d="M155.9 201.5L171.5 195.5L185.5 191.1L194.2 192L196.5 201.5L206.8 197.7L211.5 198.2L214.8 202.3L223.9 200.6L229 202.3L229.7 207.3L221 212.6L209.6 216L198 221L192.5 223.5L191.8 229.6L187 229.8L186.2 223.5L178 222.5L173 221.7L167.9 216.6L161.8 210.5L164 206.9L155.9 201.5Z" fill="#e8e8e8" stroke="#111" stroke-width="1.15" stroke-linejoin="round"/>
<path d="M24.5 113.7L36.1 109.8L48.6 112.7L64.1 114.2L79.5 113.2L82.4 118.5L81.4 130.1L89.2 137.8L104.6 143.6L111.4 150.4L119.1 146.5L120 139.2L127.4 137.8L136.3 147.4L143.8 143L149.7 137.8L157.1 146.7L170.5 146.7L184.6 154.1L188.3 157L179.4 164.5L184.5 175L182.3 185.8L185.5 191.1L171.5 195.5L155.9 201.5L164 206.9L161.8 210.5L155 212.5L145 213.8L137.4 215L135.5 220.8L133.6 217.9L128.7 218.9L122.9 214.1L121 203.5L114.2 201.5L114.2 196.7L122 189.9L122.9 180.3L118.1 172.6L115.2 176.4L106.5 172.6L94 178.8L85.3 177.4L82.4 171.6L72.7 167.7L67.9 172.6L67 166.8L52.5 163.9L42.8 154.2L33.2 141.7L29.3 142.6L19.7 132L19.7 124.3L24.5 122.4L24.5 113.7Z" fill="#e8e8e8" stroke="#111" stroke-width="1.15" stroke-linejoin="round"/>
<ellipse cx="187.2" cy="237.4" rx="8.8" ry="6.3" transform="rotate(-35 187.2 237.4)" fill="#e8e8e8" stroke="#111" stroke-width="1"/>
<path d="M256.6 194.4L258.2 199.8L255.5 211.6L253.9 215.9L249.1 208.4L252.3 197.6Z" fill="#e8e8e8" stroke="#111" stroke-width="1"/>
<path d="M246.8 146.3L252.3 152.4L246.9 162.1L258.8 159.9L255.3 168L249.6 182.3L243.9 193.7L236 201.5L229.7 207.3L221 212.6L209.6 216L198 221L192.5 223.5L191.8 229.6L187 229.8L186.2 223.5L178 222.5L173 221.7L167.9 216.6L161.8 210.5" fill="none" stroke="#111" stroke-width="1.8" stroke-linejoin="round"/>
<rect x="266.3" y="203.2" width="27.4" height="41.2" fill="#fff" stroke="#111" stroke-width="1.6"/>
<path d="M267.5 204.5 Q269 208 272 208 Q276 208.5 280 206.5 Q284 205 286 205.5 L289 204.5 L293 206.5" fill="none" stroke="#111" stroke-width="1.1"/>
<ellipse cx="270.8" cy="209.8" rx="1.6" ry="1.3" fill="none" stroke="#111" stroke-width="1"/>
<path d="M289.5 204l3 0 0 3z" fill="#111"/>
<path d="M277 211.5l2 1.5M272.5 215.5l2-1 1 .8 2-.2M281.5 216.5l.6.6M277.5 221.5l-.3 4.5M275.5 224l-1 2.2M273 229l2-.8 1.5.7 1.2-2 1-2.5 2 .5 1-1M276 231l2-2M275.5 235.5l1.3 0" fill="none" stroke="#111" stroke-width="1.1"/>
</g>
<g transform="translate(806 835)">
<path d="M24.5 113.7L24.1 107.7L16.7 101.2L14.9 92.8L11.1 87.2L13.9 83.5L10.2 74.3L13.9 69.6L23.2 68.7L25.1 71.5L29.7 68.7L46.4 65.9L50.1 60.3L52 48.3L63.1 48.3L70.5 38.1L80.8 40.8L82.6 33.4L89.6 30.2L93.8 32L94.7 37.1L101.2 40.8L103 53.8L101.2 57.6L111.4 62.2L118.8 66.8L122.5 74.3L128.2 79.8L129.7 91L140 94L137.1 99.2L144.5 106.6L157.1 103.6L154.9 114L162.3 116.2L171.2 105.1L172 112.5L179.4 115.5L188.3 105.1L193.5 104.3L190.5 113.3L189.8 136.3L193.5 143.7L186.8 145.9L187.6 150.4L184.6 154.1L170.5 146.7L157.1 146.7L149.7 137.8L143.8 143L136.3 147.4L127.4 137.8L120 139.2L119.1 146.5L111.4 150.4L104.6 143.6L89.2 137.8L81.4 130.1L82.4 118.5L79.5 113.2L64.1 114.2L48.6 112.7L36.1 109.8L24.5 113.7Z" fill="#e8e8e8" stroke="#111" stroke-width="1.15" stroke-linejoin="round"/>
<path d="M128.2 79.8L143.8 81.3L151.2 85L163.1 89.5L172 85.8L185.3 85L195.7 77.6L195 69.5L203.1 69.5L210 65L217.7 58.4L230.2 55.8L231.9 53.1L224.8 47.8L214.1 49.5L212.4 46.9L215.9 37.1L226.6 32.6L231.9 20.1L228.4 16.6L234.6 11.7L235.5 13L239.1 21L241.7 23.7L250.7 21.5L254.2 25.5L252.4 37.1L250.7 42.4L242.6 49.5L247.1 52.2L240.9 59.3L243.5 67.4L248 69.1L252.4 75.4L249.8 78L236.4 85.2L231.7 85L230.7 93.3L236.4 98L227 104.8L226 111.5L222.3 114.1L218.2 118.3L215.1 123.5L215.6 127.6L213.5 126.1L206.8 125L205.2 130.2L200 132.3L189.8 136.3L190.5 113.3L193.5 104.3L188.3 105.1L179.4 115.5L172 112.5L171.2 105.1L162.3 116.2L154.9 114L157.1 103.6L144.5 106.6L137.1 99.2L140 94L129.7 91L128.2 79.8Z" fill="#4e6569" stroke="#111" stroke-width="1.15" stroke-linejoin="round"/>
<path d="M234.6 11.7L243.5 10.3L252.4 12.1L262.2 30.8L276.5 35.3L279.2 40.6L294.3 33.5L292.5 55.8L283.6 59.3L286.3 73.6L280.9 74.5L272.9 82.5L267.6 85L257.7 97L252 99.6L244.2 105.8L243.7 100.6L247.3 94.4L242.6 91.2L236.4 98L230.7 93.3L231.7 85L236.4 85.2L249.8 78L252.4 75.4L248 69.1L243.5 67.4L240.9 59.3L247.1 52.2L242.6 49.5L250.7 42.4L252.4 37.1L254.2 25.5L250.7 21.5L241.7 23.7L239.1 21L235.5 13L234.6 11.7Z" fill="#e8e8e8" stroke="#111" stroke-width="1.15" stroke-linejoin="round"/>
<path d="M226 111.5L232.2 112.5L233.3 117.2L236.4 118.3L242.1 112L252.5 114.1L245.7 120.3L236.4 131.8L241.6 135.9L246.8 146.3L252.3 152.4L246.9 162.1L258.8 159.9L255.3 168L249.6 182.3L243.9 193.7L236 201.5L229.7 207.3L229 202.3L223.9 200.6L214.8 202.3L211.5 198.2L210.3 196.5L210.3 171.8L221.1 165.3L219.8 155L219.8 150L214.6 145.8L218.2 139.6L222.9 139.6L219.2 135.9L213.5 132.8L215.6 127.6L215.1 123.5L218.2 118.3L222.3 114.1L226 111.5Z" fill="#e8e8e8" stroke="#111" stroke-width="1.15" stroke-linejoin="round"/>
<path d="M189.8 136.3L200 132.3L205.2 130.2L206.8 125L213.5 126.1L215.6 127.6L213.5 132.8L219.2 135.9L222.9 139.6L218.2 139.6L214.6 145.8L219.8 150L219.8 155L221.1 165.3L210.3 171.8L210.3 196.5L211.5 198.2L206.8 197.7L196.5 201.5L194.2 192L185.5 191.1L182.3 185.8L184.5 175L179.4 164.5L188.3 157L184.6 154.1L187.6 150.4L186.8 145.9L193.5 143.7L189.8 136.3Z" fill="#e8e8e8" stroke="#111" stroke-width="1.15" stroke-linejoin="round"/>
<path d="M155.9 201.5L171.5 195.5L185.5 191.1L194.2 192L196.5 201.5L206.8 197.7L211.5 198.2L214.8 202.3L223.9 200.6L229 202.3L229.7 207.3L221 212.6L209.6 216L198 221L192.5 223.5L191.8 229.6L187 229.8L186.2 223.5L178 222.5L173 221.7L167.9 216.6L161.8 210.5L164 206.9L155.9 201.5Z" fill="#e8e8e8" stroke="#111" stroke-width="1.15" stroke-linejoin="round"/>
<path d="M24.5 113.7L36.1 109.8L48.6 112.7L64.1 114.2L79.5 113.2L82.4 118.5L81.4 130.1L89.2 137.8L104.6 143.6L111.4 150.4L119.1 146.5L120 139.2L127.4 137.8L136.3 147.4L143.8 143L149.7 137.8L157.1 146.7L170.5 146.7L184.6 154.1L188.3 157L179.4 164.5L184.5 175L182.3 185.8L185.5 191.1L171.5 195.5L155.9 201.5L164 206.9L161.8 210.5L155 212.5L145 213.8L137.4 215L135.5 220.8L133.6 217.9L128.7 218.9L122.9 214.1L121 203.5L114.2 201.5L114.2 196.7L122 189.9L122.9 180.3L118.1 172.6L115.2 176.4L106.5 172.6L94 178.8L85.3 177.4L82.4 171.6L72.7 167.7L67.9 172.6L67 166.8L52.5 163.9L42.8 154.2L33.2 141.7L29.3 142.6L19.7 132L19.7 124.3L24.5 122.4L24.5 113.7Z" fill="#e8e8e8" stroke="#111" stroke-width="1.15" stroke-linejoin="round"/>
<ellipse cx="187.2" cy="237.4" rx="8.8" ry="6.3" transform="rotate(-35 187.2 237.4)" fill="#e8e8e8" stroke="#111" stroke-width="1"/>
<path d="M256.6 194.4L258.2 199.8L255.5 211.6L253.9 215.9L249.1 208.4L252.3 197.6Z" fill="#e8e8e8" stroke="#111" stroke-width="1"/>
<path d="M246.8 146.3L252.3 152.4L246.9 162.1L258.8 159.9L255.3 168L249.6 182.3L243.9 193.7L236 201.5L229.7 207.3L221 212.6L209.6 216L198 221L192.5 223.5L191.8 229.6L187 229.8L186.2 223.5L178 222.5L173 221.7L167.9 216.6L161.8 210.5" fill="none" stroke="#111" stroke-width="1.8" stroke-linejoin="round"/>
<rect x="266.3" y="203.2" width="27.4" height="41.2" fill="#fff" stroke="#111" stroke-width="1.6"/>
<path d="M267.5 204.5 Q269 208 272 208 Q276 208.5 280 206.5 Q284 205 286 205.5 L289 204.5 L293 206.5" fill="none" stroke="#111" stroke-width="1.1"/>
<ellipse cx="270.8" cy="209.8" rx="1.6" ry="1.3" fill="none" stroke="#111" stroke-width="1"/>
<path d="M289.5 204l3 0 0 3z" fill="#111"/>
<path d="M277 211.5l2 1.5M272.5 215.5l2-1 1 .8 2-.2M281.5 216.5l.6.6M277.5 221.5l-.3 4.5M275.5 224l-1 2.2M273 229l2-.8 1.5.7 1.2-2 1-2.5 2 .5 1-1M276 231l2-2M275.5 235.5l1.3 0" fill="none" stroke="#111" stroke-width="1.1"/>
</g>
<g transform="translate(1342 835)">
<path d="M24.5 113.7L24.1 107.7L16.7 101.2L14.9 92.8L11.1 87.2L13.9 83.5L10.2 74.3L13.9 69.6L23.2 68.7L25.1 71.5L29.7 68.7L46.4 65.9L50.1 60.3L52 48.3L63.1 48.3L70.5 38.1L80.8 40.8L82.6 33.4L89.6 30.2L93.8 32L94.7 37.1L101.2 40.8L103 53.8L101.2 57.6L111.4 62.2L118.8 66.8L122.5 74.3L128.2 79.8L129.7 91L140 94L137.1 99.2L144.5 106.6L157.1 103.6L154.9 114L162.3 116.2L171.2 105.1L172 112.5L179.4 115.5L188.3 105.1L193.5 104.3L190.5 113.3L189.8 136.3L193.5 143.7L186.8 145.9L187.6 150.4L184.6 154.1L170.5 146.7L157.1 146.7L149.7 137.8L143.8 143L136.3 147.4L127.4 137.8L120 139.2L119.1 146.5L111.4 150.4L104.6 143.6L89.2 137.8L81.4 130.1L82.4 118.5L79.5 113.2L64.1 114.2L48.6 112.7L36.1 109.8L24.5 113.7Z" fill="#e8e8e8" stroke="#111" stroke-width="1.15" stroke-linejoin="round"/>
<path d="M128.2 79.8L143.8 81.3L151.2 85L163.1 89.5L172 85.8L185.3 85L195.7 77.6L195 69.5L203.1 69.5L210 65L217.7 58.4L230.2 55.8L231.9 53.1L224.8 47.8L214.1 49.5L212.4 46.9L215.9 37.1L226.6 32.6L231.9 20.1L228.4 16.6L234.6 11.7L235.5 13L239.1 21L241.7 23.7L250.7 21.5L254.2 25.5L252.4 37.1L250.7 42.4L242.6 49.5L247.1 52.2L240.9 59.3L243.5 67.4L248 69.1L252.4 75.4L249.8 78L236.4 85.2L231.7 85L230.7 93.3L236.4 98L227 104.8L226 111.5L222.3 114.1L218.2 118.3L215.1 123.5L215.6 127.6L213.5 126.1L206.8 125L205.2 130.2L200 132.3L189.8 136.3L190.5 113.3L193.5 104.3L188.3 105.1L179.4 115.5L172 112.5L171.2 105.1L162.3 116.2L154.9 114L157.1 103.6L144.5 106.6L137.1 99.2L140 94L129.7 91L128.2 79.8Z" fill="#e8e8e8" stroke="#111" stroke-width="1.15" stroke-linejoin="round"/>
<path d="M234.6 11.7L243.5 10.3L252.4 12.1L262.2 30.8L276.5 35.3L279.2 40.6L294.3 33.5L292.5 55.8L283.6 59.3L286.3 73.6L280.9 74.5L272.9 82.5L267.6 85L257.7 97L252 99.6L244.2 105.8L243.7 100.6L247.3 94.4L242.6 91.2L236.4 98L230.7 93.3L231.7 85L236.4 85.2L249.8 78L252.4 75.4L248 69.1L243.5 67.4L240.9 59.3L247.1 52.2L242.6 49.5L250.7 42.4L252.4 37.1L254.2 25.5L250.7 21.5L241.7 23.7L239.1 21L235.5 13L234.6 11.7Z" fill="#4e6569" stroke="#111" stroke-width="1.15" stroke-linejoin="round"/>
<path d="M226 111.5L232.2 112.5L233.3 117.2L236.4 118.3L242.1 112L252.5 114.1L245.7 120.3L236.4 131.8L241.6 135.9L246.8 146.3L252.3 152.4L246.9 162.1L258.8 159.9L255.3 168L249.6 182.3L243.9 193.7L236 201.5L229.7 207.3L229 202.3L223.9 200.6L214.8 202.3L211.5 198.2L210.3 196.5L210.3 171.8L221.1 165.3L219.8 155L219.8 150L214.6 145.8L218.2 139.6L222.9 139.6L219.2 135.9L213.5 132.8L215.6 127.6L215.1 123.5L218.2 118.3L222.3 114.1L226 111.5Z" fill="#e8e8e8" stroke="#111" stroke-width="1.15" stroke-linejoin="round"/>
<path d="M189.8 136.3L200 132.3L205.2 130.2L206.8 125L213.5 126.1L215.6 127.6L213.5 132.8L219.2 135.9L222.9 139.6L218.2 139.6L214.6 145.8L219.8 150L219.8 155L221.1 165.3L210.3 171.8L210.3 196.5L211.5 198.2L206.8 197.7L196.5 201.5L194.2 192L185.5 191.1L182.3 185.8L184.5 175L179.4 164.5L188.3 157L184.6 154.1L187.6 150.4L186.8 145.9L193.5 143.7L189.8 136.3Z" fill="#e8e8e8" stroke="#111" stroke-width="1.15" stroke-linejoin="round"/>
<path d="M155.9 201.5L171.5 195.5L185.5 191.1L194.2 192L196.5 201.5L206.8 197.7L211.5 198.2L214.8 202.3L223.9 200.6L229 202.3L229.7 207.3L221 212.6L209.6 216L198 221L192.5 223.5L191.8 229.6L187 229.8L186.2 223.5L178 222.5L173 221.7L167.9 216.6L161.8 210.5L164 206.9L155.9 201.5Z" fill="#e8e8e8" stroke="#111" stroke-width="1.15" stroke-linejoin="round"/>
<path d="M24.5 113.7L36.1 109.8L48.6 112.7L64.1 114.2L79.5 113.2L82.4 118.5L81.4 130.1L89.2 137.8L104.6 143.6L111.4 150.4L119.1 146.5L120 139.2L127.4 137.8L136.3 147.4L143.8 143L149.7 137.8L157.1 146.7L170.5 146.7L184.6 154.1L188.3 157L179.4 164.5L184.5 175L182.3 185.8L185.5 191.1L171.5 195.5L155.9 201.5L164 206.9L161.8 210.5L155 212.5L145 213.8L137.4 215L135.5 220.8L133.6 217.9L128.7 218.9L122.9 214.1L121 203.5L114.2 201.5L114.2 196.7L122 189.9L122.9 180.3L118.1 172.6L115.2 176.4L106.5 172.6L94 178.8L85.3 177.4L82.4 171.6L72.7 167.7L67.9 172.6L67 166.8L52.5 163.9L42.8 154.2L33.2 141.7L29.3 142.6L19.7 132L19.7 124.3L24.5 122.4L24.5 113.7Z" fill="#e8e8e8" stroke="#111" stroke-width="1.15" stroke-linejoin="round"/>
<ellipse cx="187.2" cy="237.4" rx="8.8" ry="6.3" transform="rotate(-35 187.2 237.4)" fill="#e8e8e8" stroke="#111" stroke-width="1"/>
<path d="M256.6 194.4L258.2 199.8L255.5 211.6L253.9 215.9L249.1 208.4L252.3 197.6Z" fill="#e8e8e8" stroke="#111" stroke-width="1"/>
<path d="M246.8 146.3L252.3 152.4L246.9 162.1L258.8 159.9L255.3 168L249.6 182.3L243.9 193.7L236 201.5L229.7 207.3L221 212.6L209.6 216L198 221L192.5 223.5L191.8 229.6L187 229.8L186.2 223.5L178 222.5L173 221.7L167.9 216.6L161.8 210.5" fill="none" stroke="#111" stroke-width="1.8" stroke-linejoin="round"/>
<rect x="266.3" y="203.2" width="27.4" height="41.2" fill="#fff" stroke="#111" stroke-width="1.6"/>
<path d="M267.5 204.5 Q269 208 272 208 Q276 208.5 280 206.5 Q284 205 286 205.5 L289 204.5 L293 206.5" fill="none" stroke="#111" stroke-width="1.1"/>
<ellipse cx="270.8" cy="209.8" rx="1.6" ry="1.3" fill="none" stroke="#111" stroke-width="1"/>
<path d="M289.5 204l3 0 0 3z" fill="#111"/>
<path d="M277 211.5l2 1.5M272.5 215.5l2-1 1 .8 2-.2M281.5 216.5l.6.6M277.5 221.5l-.3 4.5M275.5 224l-1 2.2M273 229l2-.8 1.5.7 1.2-2 1-2.5 2 .5 1-1M276 231l2-2M275.5 235.5l1.3 0" fill="none" stroke="#111" stroke-width="1.1"/>
</g>
<g transform="translate(3 1102)">
<path d="M24.5 113.7L24.1 107.7L16.7 101.2L14.9 92.8L11.1 87.2L13.9 83.5L10.2 74.3L13.9 69.6L23.2 68.7L25.1 71.5L29.7 68.7L46.4 65.9L50.1 60.3L52 48.3L63.1 48.3L70.5 38.1L80.8 40.8L82.6 33.4L89.6 30.2L93.8 32L94.7 37.1L101.2 40.8L103 53.8L101.2 57.6L111.4 62.2L118.8 66.8L122.5 74.3L128.2 79.8L129.7 91L140 94L137.1 99.2L144.5 106.6L157.1 103.6L154.9 114L162.3 116.2L171.2 105.1L172 112.5L179.4 115.5L188.3 105.1L193.5 104.3L190.5 113.3L189.8 136.3L193.5 143.7L186.8 145.9L187.6 150.4L184.6 154.1L170.5 146.7L157.1 146.7L149.7 137.8L143.8 143L136.3 147.4L127.4 137.8L120 139.2L119.1 146.5L111.4 150.4L104.6 143.6L89.2 137.8L81.4 130.1L82.4 118.5L79.5 113.2L64.1 114.2L48.6 112.7L36.1 109.8L24.5 113.7Z" fill="#e8e8e8" stroke="#111" stroke-width="1.15" stroke-linejoin="round"/>
<path d="M128.2 79.8L143.8 81.3L151.2 85L163.1 89.5L172 85.8L185.3 85L195.7 77.6L195 69.5L203.1 69.5L210 65L217.7 58.4L230.2 55.8L231.9 53.1L224.8 47.8L214.1 49.5L212.4 46.9L215.9 37.1L226.6 32.6L231.9 20.1L228.4 16.6L234.6 11.7L235.5 13L239.1 21L241.7 23.7L250.7 21.5L254.2 25.5L252.4 37.1L250.7 42.4L242.6 49.5L247.1 52.2L240.9 59.3L243.5 67.4L248 69.1L252.4 75.4L249.8 78L236.4 85.2L231.7 85L230.7 93.3L236.4 98L227 104.8L226 111.5L222.3 114.1L218.2 118.3L215.1 123.5L215.6 127.6L213.5 126.1L206.8 125L205.2 130.2L200 132.3L189.8 136.3L190.5 113.3L193.5 104.3L188.3 105.1L179.4 115.5L172 112.5L171.2 105.1L162.3 116.2L154.9 114L157.1 103.6L144.5 106.6L137.1 99.2L140 94L129.7 91L128.2 79.8Z" fill="#e8e8e8" stroke="#111" stroke-width="1.15" stroke-linejoin="round"/>
<path d="M234.6 11.7L243.5 10.3L252.4 12.1L262.2 30.8L276.5 35.3L279.2 40.6L294.3 33.5L292.5 55.8L283.6 59.3L286.3 73.6L280.9 74.5L272.9 82.5L267.6 85L257.7 97L252 99.6L244.2 105.8L243.7 100.6L247.3 94.4L242.6 91.2L236.4 98L230.7 93.3L231.7 85L236.4 85.2L249.8 78L252.4 75.4L248 69.1L243.5 67.4L240.9 59.3L247.1 52.2L242.6 49.5L250.7 42.4L252.4 37.1L254.2 25.5L250.7 21.5L241.7 23.7L239.1 21L235.5 13L234.6 11.7Z" fill="#e8e8e8" stroke="#111" stroke-width="1.15" stroke-linejoin="round"/>
<path d="M226 111.5L232.2 112.5L233.3 117.2L236.4 118.3L242.1 112L252.5 114.1L245.7 120.3L236.4 131.8L241.6 135.9L246.8 146.3L252.3 152.4L246.9 162.1L258.8 159.9L255.3 168L249.6 182.3L243.9 193.7L236 201.5L229.7 207.3L229 202.3L223.9 200.6L214.8 202.3L211.5 198.2L210.3 196.5L210.3 171.8L221.1 165.3L219.8 155L219.8 150L214.6 145.8L218.2 139.6L222.9 139.6L219.2 135.9L213.5 132.8L215.6 127.6L215.1 123.5L218.2 118.3L222.3 114.1L226 111.5Z" fill="#e8e8e8" stroke="#111" stroke-width="1.15" stroke-linejoin="round"/>
<path d="M189.8 136.3L200 132.3L205.2 130.2L206.8 125L213.5 126.1L215.6 127.6L213.5 132.8L219.2 135.9L222.9 139.6L218.2 139.6L214.6 145.8L219.8 150L219.8 155L221.1 165.3L210.3 171.8L210.3 196.5L211.5 198.2L206.8 197.7L196.5 201.5L194.2 192L185.5 191.1L182.3 185.8L184.5 175L179.4 164.5L188.3 157L184.6 154.1L187.6 150.4L186.8 145.9L193.5 143.7L189.8 136.3Z" fill="#e8e8e8" stroke="#111" stroke-width="1.15" stroke-linejoin="round"/>
<path d="M155.9 201.5L171.5 195.5L185.5 191.1L194.2 192L196.5 201.5L206.8 197.7L211.5 198.2L214.8 202.3L223.9 200.6L229 202.3L229.7 207.3L221 212.6L209.6 216L198 221L192.5 223.5L191.8 229.6L187 229.8L186.2 223.5L178 222.5L173 221.7L167.9 216.6L161.8 210.5L164 206.9L155.9 201.5Z" fill="#e8e8e8" stroke="#111" stroke-width="1.15" stroke-linejoin="round"/>
<path d="M24.5 113.7L36.1 109.8L48.6 112.7L64.1 114.2L79.5 113.2L82.4 118.5L81.4 130.1L89.2 137.8L104.6 143.6L111.4 150.4L119.1 146.5L120 139.2L127.4 137.8L136.3 147.4L143.8 143L149.7 137.8L157.1 146.7L170.5 146.7L184.6 154.1L188.3 157L179.4 164.5L184.5 175L182.3 185.8L185.5 191.1L171.5 195.5L155.9 201.5L164 206.9L161.8 210.5L155 212.5L145 213.8L137.4 215L135.5 220.8L133.6 217.9L128.7 218.9L122.9 214.1L121 203.5L114.2 201.5L114.2 196.7L122 189.9L122.9 180.3L118.1 172.6L115.2 176.4L106.5 172.6L94 178.8L85.3 177.4L82.4 171.6L72.7 167.7L67.9 172.6L67 166.8L52.5 163.9L42.8 154.2L33.2 141.7L29.3 142.6L19.7 132L19.7 124.3L24.5 122.4L24.5 113.7Z" fill="#4e6569" stroke="#111" stroke-width="1.15" stroke-linejoin="round"/>
<ellipse cx="187.2" cy="237.4" rx="8.8" ry="6.3" transform="rotate(-35 187.2 237.4)" fill="#e8e8e8" stroke="#111" stroke-width="1"/>
<path d="M256.6 194.4L258.2 199.8L255.5 211.6L253.9 215.9L249.1 208.4L252.3 197.6Z" fill="#e8e8e8" stroke="#111" stroke-width="1"/>
<path d="M246.8 146.3L252.3 152.4L246.9 162.1L258.8 159.9L255.3 168L249.6 182.3L243.9 193.7L236 201.5L229.7 207.3L221 212.6L209.6 216L198 221L192.5 223.5L191.8 229.6L187 229.8L186.2 223.5L178 222.5L173 221.7L167.9 216.6L161.8 210.5" fill="none" stroke="#111" stroke-width="1.8" stroke-linejoin="round"/>
<rect x="266.3" y="203.2" width="27.4" height="41.2" fill="#fff" stroke="#111" stroke-width="1.6"/>
<path d="M267.5 204.5 Q269 208 272 208 Q276 208.5 280 206.5 Q284 205 286 205.5 L289 204.5 L293 206.5" fill="none" stroke="#111" stroke-width="1.1"/>
<ellipse cx="270.8" cy="209.8" rx="1.6" ry="1.3" fill="none" stroke="#111" stroke-width="1"/>
<path d="M289.5 204l3 0 0 3z" fill="#111"/>
<path d="M277 211.5l2 1.5M272.5 215.5l2-1 1 .8 2-.2M281.5 216.5l.6.6M277.5 221.5l-.3 4.5M275.5 224l-1 2.2M273 229l2-.8 1.5.7 1.2-2 1-2.5 2 .5 1-1M276 231l2-2M275.5 235.5l1.3 0" fill="none" stroke="#111" stroke-width="1.1"/>
</g>
<g transform="translate(539 1102)">
<path d="M24.5 113.7L24.1 107.7L16.7 101.2L14.9 92.8L11.1 87.2L13.9 83.5L10.2 74.3L13.9 69.6L23.2 68.7L25.1 71.5L29.7 68.7L46.4 65.9L50.1 60.3L52 48.3L63.1 48.3L70.5 38.1L80.8 40.8L82.6 33.4L89.6 30.2L93.8 32L94.7 37.1L101.2 40.8L103 53.8L101.2 57.6L111.4 62.2L118.8 66.8L122.5 74.3L128.2 79.8L129.7 91L140 94L137.1 99.2L144.5 106.6L157.1 103.6L154.9 114L162.3 116.2L171.2 105.1L172 112.5L179.4 115.5L188.3 105.1L193.5 104.3L190.5 113.3L189.8 136.3L193.5 143.7L186.8 145.9L187.6 150.4L184.6 154.1L170.5 146.7L157.1 146.7L149.7 137.8L143.8 143L136.3 147.4L127.4 137.8L120 139.2L119.1 146.5L111.4 150.4L104.6 143.6L89.2 137.8L81.4 130.1L82.4 118.5L79.5 113.2L64.1 114.2L48.6 112.7L36.1 109.8L24.5 113.7Z" fill="#e8e8e8" stroke="#111" stroke-width="1.15" stroke-linejoin="round"/>
<path d="M128.2 79.8L143.8 81.3L151.2 85L163.1 89.5L172 85.8L185.3 85L195.7 77.6L195 69.5L203.1 69.5L210 65L217.7 58.4L230.2 55.8L231.9 53.1L224.8 47.8L214.1 49.5L212.4 46.9L215.9 37.1L226.6 32.6L231.9 20.1L228.4 16.6L234.6 11.7L235.5 13L239.1 21L241.7 23.7L250.7 21.5L254.2 25.5L252.4 37.1L250.7 42.4L242.6 49.5L247.1 52.2L240.9 59.3L243.5 67.4L248 69.1L252.4 75.4L249.8 78L236.4 85.2L231.7 85L230.7 93.3L236.4 98L227 104.8L226 111.5L222.3 114.1L218.2 118.3L215.1 123.5L215.6 127.6L213.5 126.1L206.8 125L205.2 130.2L200 132.3L189.8 136.3L190.5 113.3L193.5 104.3L188.3 105.1L179.4 115.5L172 112.5L171.2 105.1L162.3 116.2L154.9 114L157.1 103.6L144.5 106.6L137.1 99.2L140 94L129.7 91L128.2 79.8Z" fill="#e8e8e8" stroke="#111" stroke-width="1.15" stroke-linejoin="round"/>
<path d="M234.6 11.7L243.5 10.3L252.4 12.1L262.2 30.8L276.5 35.3L279.2 40.6L294.3 33.5L292.5 55.8L283.6 59.3L286.3 73.6L280.9 74.5L272.9 82.5L267.6 85L257.7 97L252 99.6L244.2 105.8L243.7 100.6L247.3 94.4L242.6 91.2L236.4 98L230.7 93.3L231.7 85L236.4 85.2L249.8 78L252.4 75.4L248 69.1L243.5 67.4L240.9 59.3L247.1 52.2L242.6 49.5L250.7 42.4L252.4 37.1L254.2 25.5L250.7 21.5L241.7 23.7L239.1 21L235.5 13L234.6 11.7Z" fill="#e8e8e8" stroke="#111" stroke-width="1.15" stroke-linejoin="round"/>
<path d="M226 111.5L232.2 112.5L233.3 117.2L236.4 118.3L242.1 112L252.5 114.1L245.7 120.3L236.4 131.8L241.6 135.9L246.8 146.3L252.3 152.4L246.9 162.1L258.8 159.9L255.3 168L249.6 182.3L243.9 193.7L236 201.5L229.7 207.3L229 202.3L223.9 200.6L214.8 202.3L211.5 198.2L210.3 196.5L210.3 171.8L221.1 165.3L219.8 155L219.8 150L214.6 145.8L218.2 139.6L222.9 139.6L219.2 135.9L213.5 132.8L215.6 127.6L215.1 123.5L218.2 118.3L222.3 114.1L226 111.5Z" fill="#e8e8e8" stroke="#111" stroke-width="1.15" stroke-linejoin="round"/>
<path d="M189.8 136.3L200 132.3L205.2 130.2L206.8 125L213.5 126.1L215.6 127.6L213.5 132.8L219.2 135.9L222.9 139.6L218.2 139.6L214.6 145.8L219.8 150L219.8 155L221.1 165.3L210.3 171.8L210.3 196.5L211.5 198.2L206.8 197.7L196.5 201.5L194.2 192L185.5 191.1L182.3 185.8L184.5 175L179.4 164.5L188.3 157L184.6 154.1L187.6 150.4L186.8 145.9L193.5 143.7L189.8 136.3Z" fill="#e8e8e8" stroke="#111" stroke-width="1.15" stroke-linejoin="round"/>
<path d="M155.9 201.5L171.5 195.5L185.5 191.1L194.2 192L196.5 201.5L206.8 197.7L211.5 198.2L214.8 202.3L223.9 200.6L229 202.3L229.7 207.3L221 212.6L209.6 216L198 221L192.5 223.5L191.8 229.6L187 229.8L186.2 223.5L178 222.5L173 221.7L167.9 216.6L161.8 210.5L164 206.9L155.9 201.5Z" fill="#4e6569" stroke="#111" stroke-width="1.15" stroke-linejoin="round"/>
<path d="M24.5 113.7L36.1 109.8L48.6 112.7L64.1 114.2L79.5 113.2L82.4 118.5L81.4 130.1L89.2 137.8L104.6 143.6L111.4 150.4L119.1 146.5L120 139.2L127.4 137.8L136.3 147.4L143.8 143L149.7 137.8L157.1 146.7L170.5 146.7L184.6 154.1L188.3 157L179.4 164.5L184.5 175L182.3 185.8L185.5 191.1L171.5 195.5L155.9 201.5L164 206.9L161.8 210.5L155 212.5L145 213.8L137.4 215L135.5 220.8L133.6 217.9L128.7 218.9L122.9 214.1L121 203.5L114.2 201.5L114.2 196.7L122 189.9L122.9 180.3L118.1 172.6L115.2 176.4L106.5 172.6L94 178.8L85.3 177.4L82.4 171.6L72.7 167.7L67.9 172.6L67 166.8L52.5 163.9L42.8 154.2L33.2 141.7L29.3 142.6L19.7 132L19.7 124.3L24.5 122.4L24.5 113.7Z" fill="#e8e8e8" stroke="#111" stroke-width="1.15" stroke-linejoin="round"/>
<ellipse cx="187.2" cy="237.4" rx="8.8" ry="6.3" transform="rotate(-35 187.2 237.4)" fill="#4e6569" stroke="#111" stroke-width="1"/>
<path d="M256.6 194.4L258.2 199.8L255.5 211.6L253.9 215.9L249.1 208.4L252.3 197.6Z" fill="#e8e8e8" stroke="#111" stroke-width="1"/>
<path d="M246.8 146.3L252.3 152.4L246.9 162.1L258.8 159.9L255.3 168L249.6 182.3L243.9 193.7L236 201.5L229.7 207.3L221 212.6L209.6 216L198 221L192.5 223.5L191.8 229.6L187 229.8L186.2 223.5L178 222.5L173 221.7L167.9 216.6L161.8 210.5" fill="none" stroke="#111" stroke-width="1.8" stroke-linejoin="round"/>
<rect x="266.3" y="203.2" width="27.4" height="41.2" fill="#fff" stroke="#111" stroke-width="1.6"/>
<path d="M267.5 204.5 Q269 208 272 208 Q276 208.5 280 206.5 Q284 205 286 205.5 L289 204.5 L293 206.5" fill="none" stroke="#111" stroke-width="1.1"/>
<ellipse cx="270.8" cy="209.8" rx="1.6" ry="1.3" fill="none" stroke="#111" stroke-width="1"/>
<path d="M289.5 204l3 0 0 3z" fill="#111"/>
<path d="M277 211.5l2 1.5M272.5 215.5l2-1 1 .8 2-.2M281.5 216.5l.6.6M277.5 221.5l-.3 4.5M275.5 224l-1 2.2M273 229l2-.8 1.5.7 1.2-2 1-2.5 2 .5 1-1M276 231l2-2M275.5 235.5l1.3 0" fill="none" stroke="#111" stroke-width="1.1"/>
</g>
<g transform="translate(1076 1102)">
<path d="M24.5 113.7L24.1 107.7L16.7 101.2L14.9 92.8L11.1 87.2L13.9 83.5L10.2 74.3L13.9 69.6L23.2 68.7L25.1 71.5L29.7 68.7L46.4 65.9L50.1 60.3L52 48.3L63.1 48.3L70.5 38.1L80.8 40.8L82.6 33.4L89.6 30.2L93.8 32L94.7 37.1L101.2 40.8L103 53.8L101.2 57.6L111.4 62.2L118.8 66.8L122.5 74.3L128.2 79.8L129.7 91L140 94L137.1 99.2L144.5 106.6L157.1 103.6L154.9 114L162.3 116.2L171.2 105.1L172 112.5L179.4 115.5L188.3 105.1L193.5 104.3L190.5 113.3L189.8 136.3L193.5 143.7L186.8 145.9L187.6 150.4L184.6 154.1L170.5 146.7L157.1 146.7L149.7 137.8L143.8 143L136.3 147.4L127.4 137.8L120 139.2L119.1 146.5L111.4 150.4L104.6 143.6L89.2 137.8L81.4 130.1L82.4 118.5L79.5 113.2L64.1 114.2L48.6 112.7L36.1 109.8L24.5 113.7Z" fill="#e8e8e8" stroke="#111" stroke-width="1.15" stroke-linejoin="round"/>
<path d="M128.2 79.8L143.8 81.3L151.2 85L163.1 89.5L172 85.8L185.3 85L195.7 77.6L195 69.5L203.1 69.5L210 65L217.7 58.4L230.2 55.8L231.9 53.1L224.8 47.8L214.1 49.5L212.4 46.9L215.9 37.1L226.6 32.6L231.9 20.1L228.4 16.6L234.6 11.7L235.5 13L239.1 21L241.7 23.7L250.7 21.5L254.2 25.5L252.4 37.1L250.7 42.4L242.6 49.5L247.1 52.2L240.9 59.3L243.5 67.4L248 69.1L252.4 75.4L249.8 78L236.4 85.2L231.7 85L230.7 93.3L236.4 98L227 104.8L226 111.5L222.3 114.1L218.2 118.3L215.1 123.5L215.6 127.6L213.5 126.1L206.8 125L205.2 130.2L200 132.3L189.8 136.3L190.5 113.3L193.5 104.3L188.3 105.1L179.4 115.5L172 112.5L171.2 105.1L162.3 116.2L154.9 114L157.1 103.6L144.5 106.6L137.1 99.2L140 94L129.7 91L128.2 79.8Z" fill="#e8e8e8" stroke="#111" stroke-width="1.15" stroke-linejoin="round"/>
<path d="M234.6 11.7L243.5 10.3L252.4 12.1L262.2 30.8L276.5 35.3L279.2 40.6L294.3 33.5L292.5 55.8L283.6 59.3L286.3 73.6L280.9 74.5L272.9 82.5L267.6 85L257.7 97L252 99.6L244.2 105.8L243.7 100.6L247.3 94.4L242.6 91.2L236.4 98L230.7 93.3L231.7 85L236.4 85.2L249.8 78L252.4 75.4L248 69.1L243.5 67.4L240.9 59.3L247.1 52.2L242.6 49.5L250.7 42.4L252.4 37.1L254.2 25.5L250.7 21.5L241.7 23.7L239.1 21L235.5 13L234.6 11.7Z" fill="#e8e8e8" stroke="#111" stroke-width="1.15" stroke-linejoin="round"/>
<path d="M226 111.5L232.2 112.5L233.3 117.2L236.4 118.3L242.1 112L252.5 114.1L245.7 120.3L236.4 131.8L241.6 135.9L246.8 146.3L252.3 152.4L246.9 162.1L258.8 159.9L255.3 168L249.6 182.3L243.9 193.7L236 201.5L229.7 207.3L229 202.3L223.9 200.6L214.8 202.3L211.5 198.2L210.3 196.5L210.3 171.8L221.1 165.3L219.8 155L219.8 150L214.6 145.8L218.2 139.6L222.9 139.6L219.2 135.9L213.5 132.8L215.6 127.6L215.1 123.5L218.2 118.3L222.3 114.1L226 111.5Z" fill="#e8e8e8" stroke="#111" stroke-width="1.15" stroke-linejoin="round"/>
<path d="M189.8 136.3L200 132.3L205.2 130.2L206.8 125L213.5 126.1L215.6 127.6L213.5 132.8L219.2 135.9L222.9 139.6L218.2 139.6L214.6 145.8L219.8 150L219.8 155L221.1 165.3L210.3 171.8L210.3 196.5L211.5 198.2L206.8 197.7L196.5 201.5L194.2 192L185.5 191.1L182.3 185.8L184.5 175L179.4 164.5L188.3 157L184.6 154.1L187.6 150.4L186.8 145.9L193.5 143.7L189.8 136.3Z" fill="#4e6569" stroke="#111" stroke-width="1.15" stroke-linejoin="round"/>
<path d="M155.9 201.5L171.5 195.5L185.5 191.1L194.2 192L196.5 201.5L206.8 197.7L211.5 198.2L214.8 202.3L223.9 200.6L229 202.3L229.7 207.3L221 212.6L209.6 216L198 221L192.5 223.5L191.8 229.6L187 229.8L186.2 223.5L178 222.5L173 221.7L167.9 216.6L161.8 210.5L164 206.9L155.9 201.5Z" fill="#e8e8e8" stroke="#111" stroke-width="1.15" stroke-linejoin="round"/>
<path d="M24.5 113.7L36.1 109.8L48.6 112.7L64.1 114.2L79.5 113.2L82.4 118.5L81.4 130.1L89.2 137.8L104.6 143.6L111.4 150.4L119.1 146.5L120 139.2L127.4 137.8L136.3 147.4L143.8 143L149.7 137.8L157.1 146.7L170.5 146.7L184.6 154.1L188.3 157L179.4 164.5L184.5 175L182.3 185.8L185.5 191.1L171.5 195.5L155.9 201.5L164 206.9L161.8 210.5L155 212.5L145 213.8L137.4 215L135.5 220.8L133.6 217.9L128.7 218.9L122.9 214.1L121 203.5L114.2 201.5L114.2 196.7L122 189.9L122.9 180.3L118.1 172.6L115.2 176.4L106.5 172.6L94 178.8L85.3 177.4L82.4 171.6L72.7 167.7L67.9 172.6L67 166.8L52.5 163.9L42.8 154.2L33.2 141.7L29.3 142.6L19.7 132L19.7 124.3L24.5 122.4L24.5 113.7Z" fill="#e8e8e8" stroke="#111" stroke-width="1.15" stroke-linejoin="round"/>
<ellipse cx="187.2" cy="237.4" rx="8.8" ry="6.3" transform="rotate(-35 187.2 237.4)" fill="#e8e8e8" stroke="#111" stroke-width="1"/>
<path d="M256.6 194.4L258.2 199.8L255.5 211.6L253.9 215.9L249.1 208.4L252.3 197.6Z" fill="#e8e8e8" stroke="#111" stroke-width="1"/>
<path d="M246.8 146.3L252.3 152.4L246.9 162.1L258.8 159.9L255.3 168L249.6 182.3L243.9 193.7L236 201.5L229.7 207.3L221 212.6L209.6 216L198 221L192.5 223.5L191.8 229.6L187 229.8L186.2 223.5L178 222.5L173 221.7L167.9 216.6L161.8 210.5" fill="none" stroke="#111" stroke-width="1.8" stroke-linejoin="round"/>
<rect x="266.3" y="203.2" width="27.4" height="41.2" fill="#fff" stroke="#111" stroke-width="1.6"/>
<path d="M267.5 204.5 Q269 208 272 208 Q276 208.5 280 206.5 Q284 205 286 205.5 L289 204.5 L293 206.5" fill="none" stroke="#111" stroke-width="1.1"/>
<ellipse cx="270.8" cy="209.8" rx="1.6" ry="1.3" fill="none" stroke="#111" stroke-width="1"/>
<path d="M289.5 204l3 0 0 3z" fill="#111"/>
<path d="M277 211.5l2 1.5M272.5 215.5l2-1 1 .8 2-.2M281.5 216.5l.6.6M277.5 221.5l-.3 4.5M275.5 224l-1 2.2M273 229l2-.8 1.5.7 1.2-2 1-2.5 2 .5 1-1M276 231l2-2M275.5 235.5l1.3 0" fill="none" stroke="#111" stroke-width="1.1"/>
</g>
<g transform="translate(1612 1102)">
<path d="M24.5 113.7L24.1 107.7L16.7 101.2L14.9 92.8L11.1 87.2L13.9 83.5L10.2 74.3L13.9 69.6L23.2 68.7L25.1 71.5L29.7 68.7L46.4 65.9L50.1 60.3L52 48.3L63.1 48.3L70.5 38.1L80.8 40.8L82.6 33.4L89.6 30.2L93.8 32L94.7 37.1L101.2 40.8L103 53.8L101.2 57.6L111.4 62.2L118.8 66.8L122.5 74.3L128.2 79.8L129.7 91L140 94L137.1 99.2L144.5 106.6L157.1 103.6L154.9 114L162.3 116.2L171.2 105.1L172 112.5L179.4 115.5L188.3 105.1L193.5 104.3L190.5 113.3L189.8 136.3L193.5 143.7L186.8 145.9L187.6 150.4L184.6 154.1L170.5 146.7L157.1 146.7L149.7 137.8L143.8 143L136.3 147.4L127.4 137.8L120 139.2L119.1 146.5L111.4 150.4L104.6 143.6L89.2 137.8L81.4 130.1L82.4 118.5L79.5 113.2L64.1 114.2L48.6 112.7L36.1 109.8L24.5 113.7Z" fill="#e8e8e8" stroke="#111" stroke-width="1.15" stroke-linejoin="round"/>
<path d="M128.2 79.8L143.8 81.3L151.2 85L163.1 89.5L172 85.8L185.3 85L195.7 77.6L195 69.5L203.1 69.5L210 65L217.7 58.4L230.2 55.8L231.9 53.1L224.8 47.8L214.1 49.5L212.4 46.9L215.9 37.1L226.6 32.6L231.9 20.1L228.4 16.6L234.6 11.7L235.5 13L239.1 21L241.7 23.7L250.7 21.5L254.2 25.5L252.4 37.1L250.7 42.4L242.6 49.5L247.1 52.2L240.9 59.3L243.5 67.4L248 69.1L252.4 75.4L249.8 78L236.4 85.2L231.7 85L230.7 93.3L236.4 98L227 104.8L226 111.5L222.3 114.1L218.2 118.3L215.1 123.5L215.6 127.6L213.5 126.1L206.8 125L205.2 130.2L200 132.3L189.8 136.3L190.5 113.3L193.5 104.3L188.3 105.1L179.4 115.5L172 112.5L171.2 105.1L162.3 116.2L154.9 114L157.1 103.6L144.5 106.6L137.1 99.2L140 94L129.7 91L128.2 79.8Z" fill="#e8e8e8" stroke="#111" stroke-width="1.15" stroke-linejoin="round"/>
<path d="M234.6 11.7L243.5 10.3L252.4 12.1L262.2 30.8L276.5 35.3L279.2 40.6L294.3 33.5L292.5 55.8L283.6 59.3L286.3 73.6L280.9 74.5L272.9 82.5L267.6 85L257.7 97L252 99.6L244.2 105.8L243.7 100.6L247.3 94.4L242.6 91.2L236.4 98L230.7 93.3L231.7 85L236.4 85.2L249.8 78L252.4 75.4L248 69.1L243.5 67.4L240.9 59.3L247.1 52.2L242.6 49.5L250.7 42.4L252.4 37.1L254.2 25.5L250.7 21.5L241.7 23.7L239.1 21L235.5 13L234.6 11.7Z" fill="#e8e8e8" stroke="#111" stroke-width="1.15" stroke-linejoin="round"/>
<path d="M226 111.5L232.2 112.5L233.3 117.2L236.4 118.3L242.1 112L252.5 114.1L245.7 120.3L236.4 131.8L241.6 135.9L246.8 146.3L252.3 152.4L246.9 162.1L258.8 159.9L255.3 168L249.6 182.3L243.9 193.7L236 201.5L229.7 207.3L229 202.3L223.9 200.6L214.8 202.3L211.5 198.2L210.3 196.5L210.3 171.8L221.1 165.3L219.8 155L219.8 150L214.6 145.8L218.2 139.6L222.9 139.6L219.2 135.9L213.5 132.8L215.6 127.6L215.1 123.5L218.2 118.3L222.3 114.1L226 111.5Z" fill="#4e6569" stroke="#111" stroke-width="1.15" stroke-linejoin="round"/>
<path d="M189.8 136.3L200 132.3L205.2 130.2L206.8 125L213.5 126.1L215.6 127.6L213.5 132.8L219.2 135.9L222.9 139.6L218.2 139.6L214.6 145.8L219.8 150L219.8 155L221.1 165.3L210.3 171.8L210.3 196.5L211.5 198.2L206.8 197.7L196.5 201.5L194.2 192L185.5 191.1L182.3 185.8L184.5 175L179.4 164.5L188.3 157L184.6 154.1L187.6 150.4L186.8 145.9L193.5 143.7L189.8 136.3Z" fill="#e8e8e8" stroke="#111" stroke-width="1.15" stroke-linejoin="round"/>
<path d="M155.9 201.5L171.5 195.5L185.5 191.1L194.2 192L196.5 201.5L206.8 197.7L211.5 198.2L214.8 202.3L223.9 200.6L229 202.3L229.7 207.3L221 212.6L209.6 216L198 221L192.5 223.5L191.8 229.6L187 229.8L186.2 223.5L178 222.5L173 221.7L167.9 216.6L161.8 210.5L164 206.9L155.9 201.5Z" fill="#e8e8e8" stroke="#111" stroke-width="1.15" stroke-linejoin="round"/>
<path d="M24.5 113.7L36.1 109.8L48.6 112.7L64.1 114.2L79.5 113.2L82.4 118.5L81.4 130.1L89.2 137.8L104.6 143.6L111.4 150.4L119.1 146.5L120 139.2L127.4 137.8L136.3 147.4L143.8 143L149.7 137.8L157.1 146.7L170.5 146.7L184.6 154.1L188.3 157L179.4 164.5L184.5 175L182.3 185.8L185.5 191.1L171.5 195.5L155.9 201.5L164 206.9L161.8 210.5L155 212.5L145 213.8L137.4 215L135.5 220.8L133.6 217.9L128.7 218.9L122.9 214.1L121 203.5L114.2 201.5L114.2 196.7L122 189.9L122.9 180.3L118.1 172.6L115.2 176.4L106.5 172.6L94 178.8L85.3 177.4L82.4 171.6L72.7 167.7L67.9 172.6L67 166.8L52.5 163.9L42.8 154.2L33.2 141.7L29.3 142.6L19.7 132L19.7 124.3L24.5 122.4L24.5 113.7Z" fill="#e8e8e8" stroke="#111" stroke-width="1.15" stroke-linejoin="round"/>
<ellipse cx="187.2" cy="237.4" rx="8.8" ry="6.3" transform="rotate(-35 187.2 237.4)" fill="#e8e8e8" stroke="#111" stroke-width="1"/>
<path d="M256.6 194.4L258.2 199.8L255.5 211.6L253.9 215.9L249.1 208.4L252.3 197.6Z" fill="#e8e8e8" stroke="#111" stroke-width="1"/>
<path d="M246.8 146.3L252.3 152.4L246.9 162.1L258.8 159.9L255.3 168L249.6 182.3L243.9 193.7L236 201.5L229.7 207.3L221 212.6L209.6 216L198 221L192.5 223.5L191.8 229.6L187 229.8L186.2 223.5L178 222.5L173 221.7L167.9 216.6L161.8 210.5" fill="none" stroke="#111" stroke-width="1.8" stroke-linejoin="round"/>
<rect x="266.3" y="203.2" width="27.4" height="41.2" fill="#fff" stroke="#111" stroke-width="1.6"/>
<path d="M267.5 204.5 Q269 208 272 208 Q276 208.5 280 206.5 Q284 205 286 205.5 L289 204.5 L293 206.5" fill="none" stroke="#111" stroke-width="1.1"/>
<ellipse cx="270.8" cy="209.8" rx="1.6" ry="1.3" fill="none" stroke="#111" stroke-width="1"/>
<path d="M289.5 204l3 0 0 3z" fill="#111"/>
<path d="M277 211.5l2 1.5M272.5 215.5l2-1 1 .8 2-.2M281.5 216.5l.6.6M277.5 221.5l-.3 4.5M275.5 224l-1 2.2M273 229l2-.8 1.5.7 1.2-2 1-2.5 2 .5 1-1M276 231l2-2M275.5 235.5l1.3 0" fill="none" stroke="#111" stroke-width="1.1"/>
</g>
<path d="M684.5 844.2A116.8 116.8 0 1 1 569.24 979.88L601.41 974.61A84.2 84.2 0 1 0 684.5 876.8Z" fill="#8fa2bf" stroke="#fff" stroke-width="1.6" stroke-linejoin="miter"/>
<path d="M569.24 979.88A116.8 116.8 0 0 1 592.59 888.93L618.24 909.05A84.2 84.2 0 0 0 601.41 974.61Z" fill="#e8aa6f" stroke="#fff" stroke-width="1.6" stroke-linejoin="miter"/>
<path d="M592.59 888.93A116.8 116.8 0 0 1 635.88 854.8L649.45 884.44A84.2 84.2 0 0 0 618.24 909.05Z" fill="#a7bfc0" stroke="#fff" stroke-width="1.6" stroke-linejoin="miter"/>
<path d="M635.88 854.8A116.8 116.8 0 0 1 645.32 850.97L656.25 881.68A84.2 84.2 0 0 0 649.45 884.44Z" fill="#e6bbbf" stroke="#fff" stroke-width="1.6" stroke-linejoin="miter"/>
<path d="M645.32 850.97A116.8 116.8 0 0 1 652.89 848.56L661.72 879.94A84.2 84.2 0 0 0 656.25 881.68Z" fill="#bcd8b7" stroke="#fff" stroke-width="1.6" stroke-linejoin="miter"/>
<path d="M652.89 848.56A116.8 116.8 0 0 1 684.5 844.2L684.5 876.8A84.2 84.2 0 0 0 661.72 879.94Z" fill="url(#hgL)" stroke="#fff" stroke-width="1.6" stroke-linejoin="miter"/>
<path d="M684.5 876.8A84.2 84.2 0 1 1 630.38 1025.5L650.88 1001.06A52.3 52.3 0 1 0 684.5 908.7Z" fill="#5a74a0" stroke="#fff" stroke-width="1.6" stroke-linejoin="miter"/>
<path d="M630.38 1025.5A84.2 84.2 0 0 1 602.63 980.66L633.65 973.21A52.3 52.3 0 0 0 650.88 1001.06Z" fill="#df7f24" stroke="#fff" stroke-width="1.6" stroke-linejoin="miter"/>
<path d="M602.63 980.66A84.2 84.2 0 0 1 646.01 886.11L660.59 914.48A52.3 52.3 0 0 0 633.65 973.21Z" fill="#729799" stroke="#fff" stroke-width="1.6" stroke-linejoin="miter"/>
<path d="M646.01 886.11A84.2 84.2 0 0 1 662.99 879.59L671.14 910.44A52.3 52.3 0 0 0 660.59 914.48Z" fill="#cf848a" stroke="#fff" stroke-width="1.6" stroke-linejoin="miter"/>
<path d="M662.99 879.59A84.2 84.2 0 0 1 672.35 877.68L676.95 909.25A52.3 52.3 0 0 0 671.14 910.44Z" fill="#62a05a" stroke="#fff" stroke-width="1.6" stroke-linejoin="miter"/>
<path d="M672.35 877.68A84.2 84.2 0 0 1 684.5 876.8L684.5 908.7A52.3 52.3 0 0 0 676.95 909.25Z" fill="url(#hgD)" stroke="#fff" stroke-width="1.6" stroke-linejoin="miter"/>
<text x="689" y="970.5" font-size="27" text-anchor="middle" font-weight="normal" fill="#111" textLength="130" lengthAdjust="spacingAndGlyphs">Northwest</text>
<path d="M1221.7 844.4A116.8 116.8 0 1 1 1120.14 903.51L1148.49 919.61A84.2 84.2 0 1 0 1221.7 877Z" fill="#8fa2bf" stroke="#fff" stroke-width="1.6" stroke-linejoin="miter"/>
<path d="M1120.14 903.51A116.8 116.8 0 0 1 1207.67 845.25L1211.58 877.61A84.2 84.2 0 0 0 1148.49 919.61Z" fill="#e8aa6f" stroke="#fff" stroke-width="1.6" stroke-linejoin="miter"/>
<path d="M1207.67 845.25A116.8 116.8 0 0 1 1211.52 844.84L1214.36 877.32A84.2 84.2 0 0 0 1211.58 877.61Z" fill="#a7bfc0" stroke="#fff" stroke-width="1.6" stroke-linejoin="miter"/>
<path d="M1211.52 844.84A116.8 116.8 0 0 1 1213.55 844.68L1215.83 877.21A84.2 84.2 0 0 0 1214.36 877.32Z" fill="#e6bbbf" stroke="#fff" stroke-width="1.6" stroke-linejoin="miter"/>
<path d="M1213.55 844.68A116.8 116.8 0 0 1 1215.59 844.56L1217.29 877.12A84.2 84.2 0 0 0 1215.83 877.21Z" fill="#bcd8b7" stroke="#fff" stroke-width="1.6" stroke-linejoin="miter"/>
<path d="M1215.59 844.56A116.8 116.8 0 0 1 1221.7 844.4L1221.7 877A84.2 84.2 0 0 0 1217.29 877.12Z" fill="url(#hgL)" stroke="#fff" stroke-width="1.6" stroke-linejoin="miter"/>
<path d="M1221.7 877A84.2 84.2 0 1 1 1144.14 993.96L1173.52 981.55A52.3 52.3 0 1 0 1221.7 908.9Z" fill="#5a74a0" stroke="#fff" stroke-width="1.6" stroke-linejoin="miter"/>
<path d="M1144.14 993.96A84.2 84.2 0 0 1 1140.22 939.98L1171.09 948.02A52.3 52.3 0 0 0 1173.52 981.55Z" fill="#df7f24" stroke="#fff" stroke-width="1.6" stroke-linejoin="miter"/>
<path d="M1140.22 939.98A84.2 84.2 0 0 1 1152.06 913.87L1178.44 931.8A52.3 52.3 0 0 0 1171.09 948.02Z" fill="#729799" stroke="#fff" stroke-width="1.6" stroke-linejoin="miter"/>
<path d="M1152.06 913.87A84.2 84.2 0 0 1 1159.13 904.86L1182.83 926.2A52.3 52.3 0 0 0 1178.44 931.8Z" fill="#cf848a" stroke="#fff" stroke-width="1.6" stroke-linejoin="miter"/>
<path d="M1159.13 904.86A84.2 84.2 0 0 1 1160.72 903.13L1183.83 925.13A52.3 52.3 0 0 0 1182.83 926.2Z" fill="#62a05a" stroke="#fff" stroke-width="1.6" stroke-linejoin="miter"/>
<path d="M1160.72 903.13A84.2 84.2 0 0 1 1221.7 877L1221.7 908.9A52.3 52.3 0 0 0 1183.83 925.13Z" fill="url(#hgD)" stroke="#fff" stroke-width="1.6" stroke-linejoin="miter"/>
<text x="1224" y="970.5" font-size="27" text-anchor="middle" font-weight="normal" fill="#111" textLength="70.5" lengthAdjust="spacingAndGlyphs">North</text>
<path d="M1756.7 844.4A116.8 116.8 0 1 1 1699.18 1062.86L1715.24 1034.48A84.2 84.2 0 1 0 1756.7 877Z" fill="#8fa2bf" stroke="#fff" stroke-width="1.6" stroke-linejoin="miter"/>
<path d="M1699.18 1062.86A116.8 116.8 0 0 1 1715.99 851.73L1727.35 882.28A84.2 84.2 0 0 0 1715.24 1034.48Z" fill="#e8aa6f" stroke="#fff" stroke-width="1.6" stroke-linejoin="miter"/>
<path d="M1715.99 851.73A116.8 116.8 0 0 1 1732.02 847.04L1738.91 878.9A84.2 84.2 0 0 0 1727.35 882.28Z" fill="#a7bfc0" stroke="#fff" stroke-width="1.6" stroke-linejoin="miter"/>
<path d="M1732.02 847.04A116.8 116.8 0 0 1 1736.62 846.14L1742.22 878.25A84.2 84.2 0 0 0 1738.91 878.9Z" fill="#e6bbbf" stroke="#fff" stroke-width="1.6" stroke-linejoin="miter"/>
<path d="M1736.62 846.14A116.8 116.8 0 0 1 1745.1 844.98L1748.34 877.42A84.2 84.2 0 0 0 1742.22 878.25Z" fill="#bcd8b7" stroke="#fff" stroke-width="1.6" stroke-linejoin="miter"/>
<path d="M1745.1 844.98A116.8 116.8 0 0 1 1756.7 844.4L1756.7 877A84.2 84.2 0 0 0 1748.34 877.42Z" fill="url(#hgL)" stroke="#fff" stroke-width="1.6" stroke-linejoin="miter"/>
<path d="M1756.7 877A84.2 84.2 0 0 1 1767.11 1044.75L1763.16 1013.1A52.3 52.3 0 0 0 1756.7 908.9Z" fill="#5a74a0" stroke="#fff" stroke-width="1.6" stroke-linejoin="miter"/>
<path d="M1767.11 1044.75A84.2 84.2 0 0 1 1676.18 936.58L1706.69 945.91A52.3 52.3 0 0 0 1763.16 1013.1Z" fill="#df7f24" stroke="#fff" stroke-width="1.6" stroke-linejoin="miter"/>
<path d="M1676.18 936.58A84.2 84.2 0 0 1 1706.5 893.6L1725.52 919.21A52.3 52.3 0 0 0 1706.69 945.91Z" fill="#729799" stroke="#fff" stroke-width="1.6" stroke-linejoin="miter"/>
<path d="M1706.5 893.6A84.2 84.2 0 0 1 1716.78 887.06L1731.91 915.15A52.3 52.3 0 0 0 1725.52 919.21Z" fill="#cf848a" stroke="#fff" stroke-width="1.6" stroke-linejoin="miter"/>
<path d="M1716.78 887.06A84.2 84.2 0 0 1 1732.79 880.47L1741.85 911.05A52.3 52.3 0 0 0 1731.91 915.15Z" fill="#62a05a" stroke="#fff" stroke-width="1.6" stroke-linejoin="miter"/>
<path d="M1732.79 880.47A84.2 84.2 0 0 1 1756.7 877L1756.7 908.9A52.3 52.3 0 0 0 1741.85 911.05Z" fill="url(#hgD)" stroke="#fff" stroke-width="1.6" stroke-linejoin="miter"/>
<text x="1760.4" y="970.5" font-size="27" text-anchor="middle" font-weight="normal" fill="#111" textLength="121.6" lengthAdjust="spacingAndGlyphs">Northeast</text>
<path d="M417.7 1112A116.8 116.8 0 1 1 389.44 1342.13L397.33 1310.5A84.2 84.2 0 1 0 417.7 1144.6Z" fill="#8fa2bf" stroke="#fff" stroke-width="1.6" stroke-linejoin="miter"/>
<path d="M389.44 1342.13A116.8 116.8 0 0 1 326.93 1302.3L352.26 1281.79A84.2 84.2 0 0 0 397.33 1310.5Z" fill="#e8aa6f" stroke="#fff" stroke-width="1.6" stroke-linejoin="miter"/>
<path d="M326.93 1302.3A116.8 116.8 0 0 1 351.38 1132.66L369.89 1159.49A84.2 84.2 0 0 0 352.26 1281.79Z" fill="#a7bfc0" stroke="#fff" stroke-width="1.6" stroke-linejoin="miter"/>
<path d="M351.38 1132.66A116.8 116.8 0 0 1 364.67 1124.73L379.47 1153.78A84.2 84.2 0 0 0 369.89 1159.49Z" fill="#e6bbbf" stroke="#fff" stroke-width="1.6" stroke-linejoin="miter"/>
<path d="M364.67 1124.73A116.8 116.8 0 0 1 402.05 1113.05L406.42 1145.36A84.2 84.2 0 0 0 379.47 1153.78Z" fill="url(#hgrL)" stroke="#fff" stroke-width="1.6" stroke-linejoin="miter"/>
<path d="M402.05 1113.05A116.8 116.8 0 0 1 417.7 1112L417.7 1144.6A84.2 84.2 0 0 0 406.42 1145.36Z" fill="url(#hgL)" stroke="#fff" stroke-width="1.6" stroke-linejoin="miter"/>
<path d="M417.7 1144.6A84.2 84.2 0 0 1 501.71 1223.22L469.89 1225.33A52.3 52.3 0 0 0 417.7 1176.5Z" fill="#5a74a0" stroke="#fff" stroke-width="1.6" stroke-linejoin="miter"/>
<path d="M501.71 1223.22A84.2 84.2 0 0 1 499.64 1248.17L468.6 1240.83A52.3 52.3 0 0 0 469.89 1225.33Z" fill="#df7f24" stroke="#fff" stroke-width="1.6" stroke-linejoin="miter"/>
<path d="M499.64 1248.17A84.2 84.2 0 1 1 353.2 1174.68L377.64 1195.18A52.3 52.3 0 1 0 468.6 1240.83Z" fill="#729799" stroke="#fff" stroke-width="1.6" stroke-linejoin="miter"/>
<path d="M353.2 1174.68A84.2 84.2 0 0 1 370.37 1159.16L388.3 1185.54A52.3 52.3 0 0 0 377.64 1195.18Z" fill="#cf848a" stroke="#fff" stroke-width="1.6" stroke-linejoin="miter"/>
<path d="M370.37 1159.16A84.2 84.2 0 0 1 404.67 1145.61L409.61 1177.13A52.3 52.3 0 0 0 388.3 1185.54Z" fill="url(#hgrD)" stroke="#fff" stroke-width="1.6" stroke-linejoin="miter"/>
<path d="M404.67 1145.61A84.2 84.2 0 0 1 417.7 1144.6L417.7 1176.5A52.3 52.3 0 0 0 409.61 1177.13Z" fill="url(#hgD)" stroke="#fff" stroke-width="1.6" stroke-linejoin="miter"/>
<text x="419" y="1238.5" font-size="27" text-anchor="middle" font-weight="normal" fill="#111" textLength="133" lengthAdjust="spacingAndGlyphs">Southwest</text>
<path d="M954.6 1112.2A116.8 116.8 0 0 1 991.47 1339.83L981.18 1308.9A84.2 84.2 0 0 0 954.6 1144.8Z" fill="#8fa2bf" stroke="#fff" stroke-width="1.6" stroke-linejoin="miter"/>
<path d="M991.47 1339.83A116.8 116.8 0 0 1 916.57 1339.44L927.19 1308.61A84.2 84.2 0 0 0 981.18 1308.9Z" fill="#e8aa6f" stroke="#fff" stroke-width="1.6" stroke-linejoin="miter"/>
<path d="M916.57 1339.44A116.8 116.8 0 0 1 840.27 1205.11L872.18 1211.78A84.2 84.2 0 0 0 927.19 1308.61Z" fill="#a7bfc0" stroke="#fff" stroke-width="1.6" stroke-linejoin="miter"/>
<path d="M840.27 1205.11A116.8 116.8 0 0 1 846.54 1184.68L876.7 1197.05A84.2 84.2 0 0 0 872.18 1211.78Z" fill="#e6bbbf" stroke="#fff" stroke-width="1.6" stroke-linejoin="miter"/>
<path d="M846.54 1184.68A116.8 116.8 0 0 1 847.49 1182.43L877.38 1195.43A84.2 84.2 0 0 0 876.7 1197.05Z" fill="#bcd8b7" stroke="#fff" stroke-width="1.6" stroke-linejoin="miter"/>
<path d="M847.49 1182.43A116.8 116.8 0 0 1 954.6 1112.2L954.6 1144.8A84.2 84.2 0 0 0 877.38 1195.43Z" fill="url(#hgL)" stroke="#fff" stroke-width="1.6" stroke-linejoin="miter"/>
<path d="M954.6 1144.8A84.2 84.2 0 0 1 1028.53 1188.69L1000.52 1203.96A52.3 52.3 0 0 0 954.6 1176.7Z" fill="#5a74a0" stroke="#fff" stroke-width="1.6" stroke-linejoin="miter"/>
<path d="M1028.53 1188.69A84.2 84.2 0 0 1 1038.29 1219.76L1006.58 1223.26A52.3 52.3 0 0 0 1000.52 1203.96Z" fill="#df7f24" stroke="#fff" stroke-width="1.6" stroke-linejoin="miter"/>
<path d="M1038.29 1219.76A84.2 84.2 0 0 1 875.68 1258.35L905.58 1247.23A52.3 52.3 0 0 0 1006.58 1223.26Z" fill="#729799" stroke="#fff" stroke-width="1.6" stroke-linejoin="miter"/>
<path d="M875.68 1258.35A84.2 84.2 0 0 1 870.4 1229L902.3 1229A52.3 52.3 0 0 0 905.58 1247.23Z" fill="#cf848a" stroke="#fff" stroke-width="1.6" stroke-linejoin="miter"/>
<path d="M870.4 1229A84.2 84.2 0 0 1 870.41 1227.53L902.31 1228.09A52.3 52.3 0 0 0 902.3 1229Z" fill="#62a05a" stroke="#fff" stroke-width="1.6" stroke-linejoin="miter"/>
<path d="M870.41 1227.53A84.2 84.2 0 0 1 954.6 1144.8L954.6 1176.7A52.3 52.3 0 0 0 902.31 1228.09Z" fill="url(#hgD)" stroke="#fff" stroke-width="1.6" stroke-linejoin="miter"/>
<text x="955.9" y="1238.5" font-size="27" text-anchor="middle" font-weight="normal" fill="#111" textLength="72.5" lengthAdjust="spacingAndGlyphs">South</text>
<path d="M1487.5 1111.6A116.8 116.8 0 1 1 1406.95 1312.98L1429.43 1289.38A84.2 84.2 0 1 0 1487.5 1144.2Z" fill="#8fa2bf" stroke="#fff" stroke-width="1.6" stroke-linejoin="miter"/>
<path d="M1406.95 1312.98A116.8 116.8 0 0 1 1406.07 1144.66L1428.8 1168.04A84.2 84.2 0 0 0 1429.43 1289.38Z" fill="#e8aa6f" stroke="#fff" stroke-width="1.6" stroke-linejoin="miter"/>
<path d="M1406.07 1144.66A116.8 116.8 0 0 1 1433.03 1125.08L1448.23 1153.92A84.2 84.2 0 0 0 1428.8 1168.04Z" fill="#a7bfc0" stroke="#fff" stroke-width="1.6" stroke-linejoin="miter"/>
<path d="M1433.03 1125.08A116.8 116.8 0 0 1 1435.93 1123.6L1450.33 1152.85A84.2 84.2 0 0 0 1448.23 1153.92Z" fill="#e6bbbf" stroke="#fff" stroke-width="1.6" stroke-linejoin="miter"/>
<path d="M1435.93 1123.6A116.8 116.8 0 0 1 1453.74 1116.59L1463.16 1147.79A84.2 84.2 0 0 0 1450.33 1152.85Z" fill="url(#hgrL)" stroke="#fff" stroke-width="1.6" stroke-linejoin="miter"/>
<path d="M1453.74 1116.59A116.8 116.8 0 0 1 1487.5 1111.6L1487.5 1144.2A84.2 84.2 0 0 0 1463.16 1147.79Z" fill="url(#hgL)" stroke="#fff" stroke-width="1.6" stroke-linejoin="miter"/>
<path d="M1487.5 1144.2A84.2 84.2 0 0 1 1514.5 1308.16L1504.27 1277.94A52.3 52.3 0 0 0 1487.5 1176.1Z" fill="#5a74a0" stroke="#fff" stroke-width="1.6" stroke-linejoin="miter"/>
<path d="M1514.5 1308.16A84.2 84.2 0 0 1 1416.96 1274.38L1443.69 1256.96A52.3 52.3 0 0 0 1504.27 1277.94Z" fill="#df7f24" stroke="#fff" stroke-width="1.6" stroke-linejoin="miter"/>
<path d="M1416.96 1274.38A84.2 84.2 0 0 1 1410.17 1195.1L1439.47 1207.71A52.3 52.3 0 0 0 1443.69 1256.96Z" fill="#729799" stroke="#fff" stroke-width="1.6" stroke-linejoin="miter"/>
<path d="M1410.17 1195.1A84.2 84.2 0 0 1 1414.58 1186.3L1442.21 1202.25A52.3 52.3 0 0 0 1439.47 1207.71Z" fill="#cf848a" stroke="#fff" stroke-width="1.6" stroke-linejoin="miter"/>
<path d="M1414.58 1186.3A84.2 84.2 0 0 1 1430.51 1166.42L1452.1 1189.9A52.3 52.3 0 0 0 1442.21 1202.25Z" fill="url(#hgrD)" stroke="#fff" stroke-width="1.6" stroke-linejoin="miter"/>
<path d="M1430.51 1166.42A84.2 84.2 0 0 1 1487.5 1144.2L1487.5 1176.1A52.3 52.3 0 0 0 1452.1 1189.9Z" fill="url(#hgD)" stroke="#fff" stroke-width="1.6" stroke-linejoin="miter"/>
<text x="1490.6" y="1238.5" font-size="27" text-anchor="middle" font-weight="normal" fill="#111" textLength="91.7" lengthAdjust="spacingAndGlyphs">Central</text>
<path d="M2023.5 1112.5A116.8 116.8 0 1 1 1909.97 1256.76L1941.66 1249.1A84.2 84.2 0 1 0 2023.5 1145.1Z" fill="#8fa2bf" stroke="#fff" stroke-width="1.6" stroke-linejoin="miter"/>
<path d="M1909.97 1256.76A116.8 116.8 0 0 1 1973.77 1123.62L1987.65 1153.11A84.2 84.2 0 0 0 1941.66 1249.1Z" fill="#e8aa6f" stroke="#fff" stroke-width="1.6" stroke-linejoin="miter"/>
<path d="M1973.77 1123.62A116.8 116.8 0 0 1 1995.05 1116.02L2002.99 1147.64A84.2 84.2 0 0 0 1987.65 1153.11Z" fill="#a7bfc0" stroke="#fff" stroke-width="1.6" stroke-linejoin="miter"/>
<path d="M1995.05 1116.02A116.8 116.8 0 0 1 1999.61 1114.97L2006.28 1146.88A84.2 84.2 0 0 0 2002.99 1147.64Z" fill="#e6bbbf" stroke="#fff" stroke-width="1.6" stroke-linejoin="miter"/>
<path d="M1999.61 1114.97A116.8 116.8 0 0 1 2008.05 1113.53L2012.36 1145.84A84.2 84.2 0 0 0 2006.28 1146.88Z" fill="url(#hgrL)" stroke="#fff" stroke-width="1.6" stroke-linejoin="miter"/>
<path d="M2008.05 1113.53A116.8 116.8 0 0 1 2023.5 1112.5L2023.5 1145.1A84.2 84.2 0 0 0 2012.36 1145.84Z" fill="url(#hgL)" stroke="#fff" stroke-width="1.6" stroke-linejoin="miter"/>
<path d="M2023.5 1145.1A84.2 84.2 0 1 1 1993.6 1308.01L2004.93 1278.19A52.3 52.3 0 1 0 2023.5 1177Z" fill="#5a74a0" stroke="#fff" stroke-width="1.6" stroke-linejoin="miter"/>
<path d="M1993.6 1308.01A84.2 84.2 0 0 1 1939.79 1238.39L1971.51 1234.95A52.3 52.3 0 0 0 2004.93 1278.19Z" fill="#df7f24" stroke="#fff" stroke-width="1.6" stroke-linejoin="miter"/>
<path d="M1939.79 1238.39A84.2 84.2 0 0 1 1968.04 1165.95L1989.05 1189.95A52.3 52.3 0 0 0 1971.51 1234.95Z" fill="#729799" stroke="#fff" stroke-width="1.6" stroke-linejoin="miter"/>
<path d="M1968.04 1165.95A84.2 84.2 0 0 1 1982.81 1155.59L1998.22 1183.51A52.3 52.3 0 0 0 1989.05 1189.95Z" fill="#cf848a" stroke="#fff" stroke-width="1.6" stroke-linejoin="miter"/>
<path d="M1982.81 1155.59A84.2 84.2 0 0 1 2000.86 1148.2L2009.44 1178.93A52.3 52.3 0 0 0 1998.22 1183.51Z" fill="url(#hgrD)" stroke="#fff" stroke-width="1.6" stroke-linejoin="miter"/>
<path d="M2000.86 1148.2A84.2 84.2 0 0 1 2023.5 1145.1L2023.5 1177A52.3 52.3 0 0 0 2009.44 1178.93Z" fill="url(#hgD)" stroke="#fff" stroke-width="1.6" stroke-linejoin="miter"/>
<text x="2022.4" y="1239" font-size="27" text-anchor="middle" font-weight="normal" fill="#111" textLength="50.4" lengthAdjust="spacingAndGlyphs">East</text>
</svg></body></html>
